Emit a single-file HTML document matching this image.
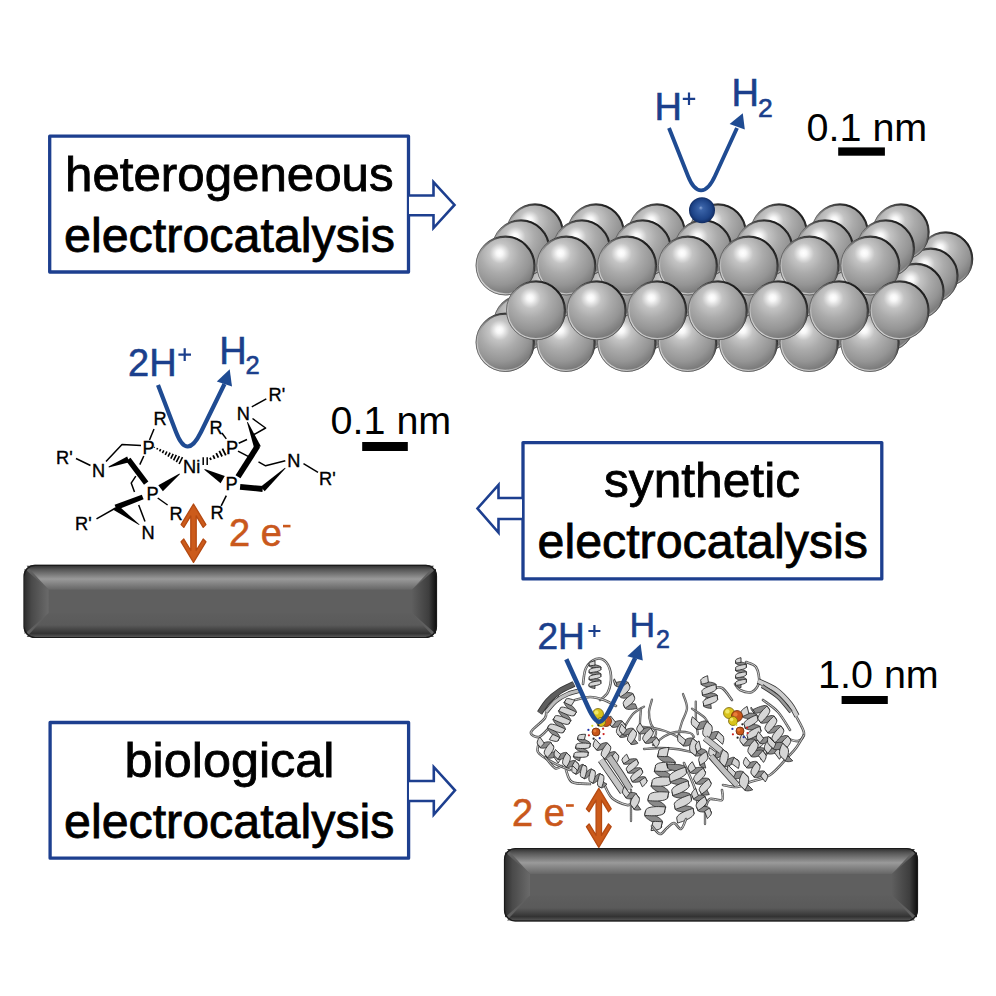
<!DOCTYPE html>
<html><head><meta charset="utf-8"><style>html,body{margin:0;padding:0;background:#fff;}svg{display:block}</style></head>
<body><svg width="996" height="996" viewBox="0 0 996 996">
<rect width="996" height="996" fill="#fff"/>

<defs>
<radialGradient id="sph" cx="0.42" cy="0.32" r="0.78" fx="0.40" fy="0.29">
 <stop offset="0" stop-color="#ffffff"/>
 <stop offset="0.07" stop-color="#f7f7f7"/>
 <stop offset="0.22" stop-color="#c4c4c4"/>
 <stop offset="0.42" stop-color="#ababab"/>
 <stop offset="0.66" stop-color="#959595"/>
 <stop offset="0.86" stop-color="#787878"/>
 <stop offset="1" stop-color="#545454"/>
</radialGradient>
<linearGradient id="rim" x1="0.15" y1="0.9" x2="0.85" y2="0.1">
 <stop offset="0" stop-color="#d4d4d4"/>
 <stop offset="0.4" stop-color="#a0a0a0"/>
 <stop offset="0.62" stop-color="#707070"/>
 <stop offset="1" stop-color="#141414"/>
</linearGradient>
<linearGradient id="outl" x1="0.2" y1="0.85" x2="0.8" y2="0.15">
 <stop offset="0" stop-color="#555"/>
 <stop offset="0.5" stop-color="#444"/>
 <stop offset="1" stop-color="#000"/>
</linearGradient>
<radialGradient id="hsph" cx="0.5" cy="0.5" r="0.55" fx="0.45" fy="0.4">
 <stop offset="0" stop-color="#8aa6d6"/>
 <stop offset="0.15" stop-color="#3a63a8"/>
 <stop offset="0.7" stop-color="#1d4387"/>
 <stop offset="1" stop-color="#0c2252"/>
</radialGradient>
<linearGradient id="elTop" x1="0" y1="0" x2="0" y2="1">
 <stop offset="0" stop-color="#333"/>
 <stop offset="0.15" stop-color="#555"/>
 <stop offset="0.55" stop-color="#9a9a9a"/>
 <stop offset="1" stop-color="#666"/>
</linearGradient>
<linearGradient id="elBot" x1="0" y1="0" x2="0" y2="1">
 <stop offset="0" stop-color="#5e5e5e"/>
 <stop offset="0.5" stop-color="#5a5a5a"/>
 <stop offset="0.85" stop-color="#333"/>
 <stop offset="1" stop-color="#555"/>
</linearGradient>
<linearGradient id="elL" x1="0" y1="0" x2="1" y2="0">
 <stop offset="0" stop-color="#2e2e2e"/>
 <stop offset="0.3" stop-color="#4a4a4a"/>
 <stop offset="1" stop-color="#6a6a6a"/>
</linearGradient>
<linearGradient id="elR" x1="0" y1="0" x2="1" y2="0">
 <stop offset="0" stop-color="#5e5e5e"/>
 <stop offset="0.7" stop-color="#3e3e3e"/>
 <stop offset="1" stop-color="#111"/>
</linearGradient>
</defs>
<rect x="49.7" y="136.2" width="358.8" height="135.8" fill="none" stroke="#1d3f8f" stroke-width="3.3" stroke-linejoin="round"/><rect x="523" y="442.6" width="358.8" height="136.3" fill="none" stroke="#1d3f8f" stroke-width="3.3" stroke-linejoin="round"/><rect x="50.1" y="722.5" width="358.5" height="135.7" fill="none" stroke="#1d3f8f" stroke-width="3.3" stroke-linejoin="round"/><text x="65" y="190.6" font-size="47.5" fill="#000" text-anchor="start" style="font-family:'Liberation Sans',sans-serif" textLength="328.6" lengthAdjust="spacingAndGlyphs" stroke="#000" stroke-width="0.8">heterogeneous</text><text x="64" y="251.6" font-size="47.5" fill="#000" text-anchor="start" style="font-family:'Liberation Sans',sans-serif" textLength="331" lengthAdjust="spacingAndGlyphs" stroke="#000" stroke-width="0.8">electrocatalysis</text><text x="604" y="496.7" font-size="47.5" fill="#000" text-anchor="start" style="font-family:'Liberation Sans',sans-serif" textLength="196" lengthAdjust="spacingAndGlyphs" stroke="#000" stroke-width="0.8">synthetic</text><text x="537.5" y="557.8" font-size="47.5" fill="#000" text-anchor="start" style="font-family:'Liberation Sans',sans-serif" textLength="330.5" lengthAdjust="spacingAndGlyphs" stroke="#000" stroke-width="0.8">electrocatalysis</text><text x="124.5" y="776.6" font-size="47.5" fill="#000" text-anchor="start" style="font-family:'Liberation Sans',sans-serif" textLength="210" lengthAdjust="spacingAndGlyphs" stroke="#000" stroke-width="0.8">biological</text><text x="64" y="837.6" font-size="47.5" fill="#000" text-anchor="start" style="font-family:'Liberation Sans',sans-serif" textLength="330.5" lengthAdjust="spacingAndGlyphs" stroke="#000" stroke-width="0.8">electrocatalysis</text><path d="M409,195.5 L433.5,195.5 L433.5,182 L454.5,204.9 L433.5,228 L433.5,215.3 L409,215.3" fill="#fff" stroke="#1d3f8f" stroke-width="2.6" stroke-linejoin="miter"/><path d="M409,781 L433.8,781 L433.8,767 L455,790.3 L433.8,814.5 L433.8,801 L409,801" fill="#fff" stroke="#1d3f8f" stroke-width="2.6" stroke-linejoin="miter"/><path d="M522,498 L498.5,498 L498.5,485 L477.5,508.5 L498.5,532.5 L498.5,519 L522,519" fill="#fff" stroke="#1d3f8f" stroke-width="2.6" stroke-linejoin="miter"/><g><rect x="23.6" y="564.8" width="413.4" height="73.20000000000005" rx="11" fill="#5f5f5f"/><path d="M26.6,565.8 L434,565.8 L412,589.8 L48.6,589.8 Z" fill="url(#elTop)"/><path d="M26.6,637 L434,637 L412,613 L48.6,613 Z" fill="url(#elBot)"/><path d="M24.6,568.8 L48.6,589.8 L48.6,613 L24.6,634 Z" fill="url(#elL)"/><path d="M436,568.8 L412,589.8 L412,613 L436,634 Z" fill="url(#elR)"/><rect x="24.1" y="565.3" width="412.4" height="72.20000000000005" rx="11" fill="none" stroke="#1a1a1a" stroke-width="1.2"/></g><g><rect x="504" y="848" width="414" height="73.39999999999998" rx="11" fill="#5f5f5f"/><path d="M507,849 L915,849 L892,874 L530,874 Z" fill="url(#elTop)"/><path d="M507,920.4 L915,920.4 L892,895.4 L530,895.4 Z" fill="url(#elBot)"/><path d="M505,852 L530,874 L530,895.4 L505,917.4 Z" fill="url(#elL)"/><path d="M917,852 L892,874 L892,895.4 L917,917.4 Z" fill="url(#elR)"/><rect x="504.5" y="848.5" width="413" height="72.39999999999998" rx="11" fill="none" stroke="#1a1a1a" stroke-width="1.2"/></g><g><circle cx="522.0" cy="323.0" r="28.5" fill="url(#sph)"/><circle cx="522.0" cy="323.0" r="27.2" fill="none" stroke="url(#rim)" stroke-width="1.5"/><circle cx="522.0" cy="323.0" r="28.2" fill="none" stroke="url(#outl)" stroke-width="0.7"/><circle cx="582.7" cy="323.0" r="28.5" fill="url(#sph)"/><circle cx="582.7" cy="323.0" r="27.2" fill="none" stroke="url(#rim)" stroke-width="1.5"/><circle cx="582.7" cy="323.0" r="28.2" fill="none" stroke="url(#outl)" stroke-width="0.7"/><circle cx="643.4" cy="323.0" r="28.5" fill="url(#sph)"/><circle cx="643.4" cy="323.0" r="27.2" fill="none" stroke="url(#rim)" stroke-width="1.5"/><circle cx="643.4" cy="323.0" r="28.2" fill="none" stroke="url(#outl)" stroke-width="0.7"/><circle cx="704.1" cy="323.0" r="28.5" fill="url(#sph)"/><circle cx="704.1" cy="323.0" r="27.2" fill="none" stroke="url(#rim)" stroke-width="1.5"/><circle cx="704.1" cy="323.0" r="28.2" fill="none" stroke="url(#outl)" stroke-width="0.7"/><circle cx="764.8" cy="323.0" r="28.5" fill="url(#sph)"/><circle cx="764.8" cy="323.0" r="27.2" fill="none" stroke="url(#rim)" stroke-width="1.5"/><circle cx="764.8" cy="323.0" r="28.2" fill="none" stroke="url(#outl)" stroke-width="0.7"/><circle cx="825.5" cy="323.0" r="28.5" fill="url(#sph)"/><circle cx="825.5" cy="323.0" r="27.2" fill="none" stroke="url(#rim)" stroke-width="1.5"/><circle cx="825.5" cy="323.0" r="28.2" fill="none" stroke="url(#outl)" stroke-width="0.7"/><circle cx="886.2" cy="323.0" r="28.5" fill="url(#sph)"/><circle cx="886.2" cy="323.0" r="27.2" fill="none" stroke="url(#rim)" stroke-width="1.5"/><circle cx="886.2" cy="323.0" r="28.2" fill="none" stroke="url(#outl)" stroke-width="0.7"/><circle cx="505.2" cy="342.3" r="29.5" fill="url(#sph)"/><circle cx="505.2" cy="342.3" r="28.2" fill="none" stroke="url(#rim)" stroke-width="1.5"/><circle cx="505.2" cy="342.3" r="29.2" fill="none" stroke="url(#outl)" stroke-width="0.7"/><circle cx="566.0" cy="342.3" r="29.5" fill="url(#sph)"/><circle cx="566.0" cy="342.3" r="28.2" fill="none" stroke="url(#rim)" stroke-width="1.5"/><circle cx="566.0" cy="342.3" r="29.2" fill="none" stroke="url(#outl)" stroke-width="0.7"/><circle cx="626.8" cy="342.3" r="29.5" fill="url(#sph)"/><circle cx="626.8" cy="342.3" r="28.2" fill="none" stroke="url(#rim)" stroke-width="1.5"/><circle cx="626.8" cy="342.3" r="29.2" fill="none" stroke="url(#outl)" stroke-width="0.7"/><circle cx="687.6" cy="342.3" r="29.5" fill="url(#sph)"/><circle cx="687.6" cy="342.3" r="28.2" fill="none" stroke="url(#rim)" stroke-width="1.5"/><circle cx="687.6" cy="342.3" r="29.2" fill="none" stroke="url(#outl)" stroke-width="0.7"/><circle cx="748.4" cy="342.3" r="29.5" fill="url(#sph)"/><circle cx="748.4" cy="342.3" r="28.2" fill="none" stroke="url(#rim)" stroke-width="1.5"/><circle cx="748.4" cy="342.3" r="29.2" fill="none" stroke="url(#outl)" stroke-width="0.7"/><circle cx="809.2" cy="342.3" r="29.5" fill="url(#sph)"/><circle cx="809.2" cy="342.3" r="28.2" fill="none" stroke="url(#rim)" stroke-width="1.5"/><circle cx="809.2" cy="342.3" r="29.2" fill="none" stroke="url(#outl)" stroke-width="0.7"/><circle cx="870.0" cy="342.3" r="29.5" fill="url(#sph)"/><circle cx="870.0" cy="342.3" r="28.2" fill="none" stroke="url(#rim)" stroke-width="1.5"/><circle cx="870.0" cy="342.3" r="29.2" fill="none" stroke="url(#outl)" stroke-width="0.7"/><circle cx="582.0" cy="259.0" r="27.5" fill="url(#sph)"/><circle cx="582.0" cy="259.0" r="26.2" fill="none" stroke="url(#rim)" stroke-width="1.5"/><circle cx="582.0" cy="259.0" r="27.2" fill="none" stroke="url(#outl)" stroke-width="0.7"/><circle cx="642.6" cy="259.0" r="27.5" fill="url(#sph)"/><circle cx="642.6" cy="259.0" r="26.2" fill="none" stroke="url(#rim)" stroke-width="1.5"/><circle cx="642.6" cy="259.0" r="27.2" fill="none" stroke="url(#outl)" stroke-width="0.7"/><circle cx="703.2" cy="259.0" r="27.5" fill="url(#sph)"/><circle cx="703.2" cy="259.0" r="26.2" fill="none" stroke="url(#rim)" stroke-width="1.5"/><circle cx="703.2" cy="259.0" r="27.2" fill="none" stroke="url(#outl)" stroke-width="0.7"/><circle cx="763.8" cy="259.0" r="27.5" fill="url(#sph)"/><circle cx="763.8" cy="259.0" r="26.2" fill="none" stroke="url(#rim)" stroke-width="1.5"/><circle cx="763.8" cy="259.0" r="27.2" fill="none" stroke="url(#outl)" stroke-width="0.7"/><circle cx="824.4" cy="259.0" r="27.5" fill="url(#sph)"/><circle cx="824.4" cy="259.0" r="26.2" fill="none" stroke="url(#rim)" stroke-width="1.5"/><circle cx="824.4" cy="259.0" r="27.2" fill="none" stroke="url(#outl)" stroke-width="0.7"/><circle cx="885.0" cy="259.0" r="27.5" fill="url(#sph)"/><circle cx="885.0" cy="259.0" r="26.2" fill="none" stroke="url(#rim)" stroke-width="1.5"/><circle cx="885.0" cy="259.0" r="27.2" fill="none" stroke="url(#outl)" stroke-width="0.7"/><circle cx="945.6" cy="259.0" r="27.5" fill="url(#sph)"/><circle cx="945.6" cy="259.0" r="26.2" fill="none" stroke="url(#rim)" stroke-width="1.5"/><circle cx="945.6" cy="259.0" r="27.2" fill="none" stroke="url(#outl)" stroke-width="0.7"/><circle cx="567.0" cy="275.5" r="27.8" fill="url(#sph)"/><circle cx="567.0" cy="275.5" r="26.5" fill="none" stroke="url(#rim)" stroke-width="1.5"/><circle cx="567.0" cy="275.5" r="27.5" fill="none" stroke="url(#outl)" stroke-width="0.7"/><circle cx="627.6" cy="275.5" r="27.8" fill="url(#sph)"/><circle cx="627.6" cy="275.5" r="26.5" fill="none" stroke="url(#rim)" stroke-width="1.5"/><circle cx="627.6" cy="275.5" r="27.5" fill="none" stroke="url(#outl)" stroke-width="0.7"/><circle cx="688.2" cy="275.5" r="27.8" fill="url(#sph)"/><circle cx="688.2" cy="275.5" r="26.5" fill="none" stroke="url(#rim)" stroke-width="1.5"/><circle cx="688.2" cy="275.5" r="27.5" fill="none" stroke="url(#outl)" stroke-width="0.7"/><circle cx="748.8" cy="275.5" r="27.8" fill="url(#sph)"/><circle cx="748.8" cy="275.5" r="26.5" fill="none" stroke="url(#rim)" stroke-width="1.5"/><circle cx="748.8" cy="275.5" r="27.5" fill="none" stroke="url(#outl)" stroke-width="0.7"/><circle cx="809.4" cy="275.5" r="27.8" fill="url(#sph)"/><circle cx="809.4" cy="275.5" r="26.5" fill="none" stroke="url(#rim)" stroke-width="1.5"/><circle cx="809.4" cy="275.5" r="27.5" fill="none" stroke="url(#outl)" stroke-width="0.7"/><circle cx="870.0" cy="275.5" r="27.8" fill="url(#sph)"/><circle cx="870.0" cy="275.5" r="26.5" fill="none" stroke="url(#rim)" stroke-width="1.5"/><circle cx="870.0" cy="275.5" r="27.5" fill="none" stroke="url(#outl)" stroke-width="0.7"/><circle cx="930.6" cy="275.5" r="27.8" fill="url(#sph)"/><circle cx="930.6" cy="275.5" r="26.5" fill="none" stroke="url(#rim)" stroke-width="1.5"/><circle cx="930.6" cy="275.5" r="27.5" fill="none" stroke="url(#outl)" stroke-width="0.7"/><circle cx="552.5" cy="291.2" r="28.3" fill="url(#sph)"/><circle cx="552.5" cy="291.2" r="27.0" fill="none" stroke="url(#rim)" stroke-width="1.5"/><circle cx="552.5" cy="291.2" r="28.0" fill="none" stroke="url(#outl)" stroke-width="0.7"/><circle cx="613.1" cy="291.2" r="28.3" fill="url(#sph)"/><circle cx="613.1" cy="291.2" r="27.0" fill="none" stroke="url(#rim)" stroke-width="1.5"/><circle cx="613.1" cy="291.2" r="28.0" fill="none" stroke="url(#outl)" stroke-width="0.7"/><circle cx="673.7" cy="291.2" r="28.3" fill="url(#sph)"/><circle cx="673.7" cy="291.2" r="27.0" fill="none" stroke="url(#rim)" stroke-width="1.5"/><circle cx="673.7" cy="291.2" r="28.0" fill="none" stroke="url(#outl)" stroke-width="0.7"/><circle cx="734.3" cy="291.2" r="28.3" fill="url(#sph)"/><circle cx="734.3" cy="291.2" r="27.0" fill="none" stroke="url(#rim)" stroke-width="1.5"/><circle cx="734.3" cy="291.2" r="28.0" fill="none" stroke="url(#outl)" stroke-width="0.7"/><circle cx="794.9" cy="291.2" r="28.3" fill="url(#sph)"/><circle cx="794.9" cy="291.2" r="27.0" fill="none" stroke="url(#rim)" stroke-width="1.5"/><circle cx="794.9" cy="291.2" r="28.0" fill="none" stroke="url(#outl)" stroke-width="0.7"/><circle cx="855.5" cy="291.2" r="28.3" fill="url(#sph)"/><circle cx="855.5" cy="291.2" r="27.0" fill="none" stroke="url(#rim)" stroke-width="1.5"/><circle cx="855.5" cy="291.2" r="28.0" fill="none" stroke="url(#outl)" stroke-width="0.7"/><circle cx="916.1" cy="291.2" r="28.3" fill="url(#sph)"/><circle cx="916.1" cy="291.2" r="27.0" fill="none" stroke="url(#rim)" stroke-width="1.5"/><circle cx="916.1" cy="291.2" r="28.0" fill="none" stroke="url(#outl)" stroke-width="0.7"/><circle cx="535.0" cy="232.0" r="28.5" fill="url(#sph)"/><circle cx="535.0" cy="232.0" r="27.2" fill="none" stroke="url(#rim)" stroke-width="1.5"/><circle cx="535.0" cy="232.0" r="28.2" fill="none" stroke="url(#outl)" stroke-width="0.7"/><circle cx="596.0" cy="232.0" r="28.5" fill="url(#sph)"/><circle cx="596.0" cy="232.0" r="27.2" fill="none" stroke="url(#rim)" stroke-width="1.5"/><circle cx="596.0" cy="232.0" r="28.2" fill="none" stroke="url(#outl)" stroke-width="0.7"/><circle cx="657.0" cy="232.0" r="28.5" fill="url(#sph)"/><circle cx="657.0" cy="232.0" r="27.2" fill="none" stroke="url(#rim)" stroke-width="1.5"/><circle cx="657.0" cy="232.0" r="28.2" fill="none" stroke="url(#outl)" stroke-width="0.7"/><circle cx="718.0" cy="232.0" r="28.5" fill="url(#sph)"/><circle cx="718.0" cy="232.0" r="27.2" fill="none" stroke="url(#rim)" stroke-width="1.5"/><circle cx="718.0" cy="232.0" r="28.2" fill="none" stroke="url(#outl)" stroke-width="0.7"/><circle cx="779.0" cy="232.0" r="28.5" fill="url(#sph)"/><circle cx="779.0" cy="232.0" r="27.2" fill="none" stroke="url(#rim)" stroke-width="1.5"/><circle cx="779.0" cy="232.0" r="28.2" fill="none" stroke="url(#outl)" stroke-width="0.7"/><circle cx="840.0" cy="232.0" r="28.5" fill="url(#sph)"/><circle cx="840.0" cy="232.0" r="27.2" fill="none" stroke="url(#rim)" stroke-width="1.5"/><circle cx="840.0" cy="232.0" r="28.2" fill="none" stroke="url(#outl)" stroke-width="0.7"/><circle cx="901.0" cy="232.0" r="28.5" fill="url(#sph)"/><circle cx="901.0" cy="232.0" r="27.2" fill="none" stroke="url(#rim)" stroke-width="1.5"/><circle cx="901.0" cy="232.0" r="28.2" fill="none" stroke="url(#outl)" stroke-width="0.7"/><circle cx="521.0" cy="248.5" r="29" fill="url(#sph)"/><circle cx="521.0" cy="248.5" r="27.7" fill="none" stroke="url(#rim)" stroke-width="1.5"/><circle cx="521.0" cy="248.5" r="28.7" fill="none" stroke="url(#outl)" stroke-width="0.7"/><circle cx="581.8" cy="248.5" r="29" fill="url(#sph)"/><circle cx="581.8" cy="248.5" r="27.7" fill="none" stroke="url(#rim)" stroke-width="1.5"/><circle cx="581.8" cy="248.5" r="28.7" fill="none" stroke="url(#outl)" stroke-width="0.7"/><circle cx="642.6" cy="248.5" r="29" fill="url(#sph)"/><circle cx="642.6" cy="248.5" r="27.7" fill="none" stroke="url(#rim)" stroke-width="1.5"/><circle cx="642.6" cy="248.5" r="28.7" fill="none" stroke="url(#outl)" stroke-width="0.7"/><circle cx="703.4" cy="248.5" r="29" fill="url(#sph)"/><circle cx="703.4" cy="248.5" r="27.7" fill="none" stroke="url(#rim)" stroke-width="1.5"/><circle cx="703.4" cy="248.5" r="28.7" fill="none" stroke="url(#outl)" stroke-width="0.7"/><circle cx="764.2" cy="248.5" r="29" fill="url(#sph)"/><circle cx="764.2" cy="248.5" r="27.7" fill="none" stroke="url(#rim)" stroke-width="1.5"/><circle cx="764.2" cy="248.5" r="28.7" fill="none" stroke="url(#outl)" stroke-width="0.7"/><circle cx="825.0" cy="248.5" r="29" fill="url(#sph)"/><circle cx="825.0" cy="248.5" r="27.7" fill="none" stroke="url(#rim)" stroke-width="1.5"/><circle cx="825.0" cy="248.5" r="28.7" fill="none" stroke="url(#outl)" stroke-width="0.7"/><circle cx="885.8" cy="248.5" r="29" fill="url(#sph)"/><circle cx="885.8" cy="248.5" r="27.7" fill="none" stroke="url(#rim)" stroke-width="1.5"/><circle cx="885.8" cy="248.5" r="28.7" fill="none" stroke="url(#outl)" stroke-width="0.7"/><circle cx="505.5" cy="265.5" r="29.8" fill="url(#sph)"/><circle cx="505.5" cy="265.5" r="28.5" fill="none" stroke="url(#rim)" stroke-width="1.5"/><circle cx="505.5" cy="265.5" r="29.5" fill="none" stroke="url(#outl)" stroke-width="0.7"/><circle cx="566.3" cy="265.5" r="29.8" fill="url(#sph)"/><circle cx="566.3" cy="265.5" r="28.5" fill="none" stroke="url(#rim)" stroke-width="1.5"/><circle cx="566.3" cy="265.5" r="29.5" fill="none" stroke="url(#outl)" stroke-width="0.7"/><circle cx="627.1" cy="265.5" r="29.8" fill="url(#sph)"/><circle cx="627.1" cy="265.5" r="28.5" fill="none" stroke="url(#rim)" stroke-width="1.5"/><circle cx="627.1" cy="265.5" r="29.5" fill="none" stroke="url(#outl)" stroke-width="0.7"/><circle cx="687.9" cy="265.5" r="29.8" fill="url(#sph)"/><circle cx="687.9" cy="265.5" r="28.5" fill="none" stroke="url(#rim)" stroke-width="1.5"/><circle cx="687.9" cy="265.5" r="29.5" fill="none" stroke="url(#outl)" stroke-width="0.7"/><circle cx="748.7" cy="265.5" r="29.8" fill="url(#sph)"/><circle cx="748.7" cy="265.5" r="28.5" fill="none" stroke="url(#rim)" stroke-width="1.5"/><circle cx="748.7" cy="265.5" r="29.5" fill="none" stroke="url(#outl)" stroke-width="0.7"/><circle cx="809.5" cy="265.5" r="29.8" fill="url(#sph)"/><circle cx="809.5" cy="265.5" r="28.5" fill="none" stroke="url(#rim)" stroke-width="1.5"/><circle cx="809.5" cy="265.5" r="29.5" fill="none" stroke="url(#outl)" stroke-width="0.7"/><circle cx="870.3" cy="265.5" r="29.8" fill="url(#sph)"/><circle cx="870.3" cy="265.5" r="28.5" fill="none" stroke="url(#rim)" stroke-width="1.5"/><circle cx="870.3" cy="265.5" r="29.5" fill="none" stroke="url(#outl)" stroke-width="0.7"/><circle cx="536.0" cy="310.3" r="29.8" fill="url(#sph)"/><circle cx="536.0" cy="310.3" r="28.5" fill="none" stroke="url(#rim)" stroke-width="1.5"/><circle cx="536.0" cy="310.3" r="29.5" fill="none" stroke="url(#outl)" stroke-width="0.7"/><circle cx="596.6" cy="310.3" r="29.8" fill="url(#sph)"/><circle cx="596.6" cy="310.3" r="28.5" fill="none" stroke="url(#rim)" stroke-width="1.5"/><circle cx="596.6" cy="310.3" r="29.5" fill="none" stroke="url(#outl)" stroke-width="0.7"/><circle cx="657.2" cy="310.3" r="29.8" fill="url(#sph)"/><circle cx="657.2" cy="310.3" r="28.5" fill="none" stroke="url(#rim)" stroke-width="1.5"/><circle cx="657.2" cy="310.3" r="29.5" fill="none" stroke="url(#outl)" stroke-width="0.7"/><circle cx="717.8" cy="310.3" r="29.8" fill="url(#sph)"/><circle cx="717.8" cy="310.3" r="28.5" fill="none" stroke="url(#rim)" stroke-width="1.5"/><circle cx="717.8" cy="310.3" r="29.5" fill="none" stroke="url(#outl)" stroke-width="0.7"/><circle cx="778.4" cy="310.3" r="29.8" fill="url(#sph)"/><circle cx="778.4" cy="310.3" r="28.5" fill="none" stroke="url(#rim)" stroke-width="1.5"/><circle cx="778.4" cy="310.3" r="29.5" fill="none" stroke="url(#outl)" stroke-width="0.7"/><circle cx="839.0" cy="310.3" r="29.8" fill="url(#sph)"/><circle cx="839.0" cy="310.3" r="28.5" fill="none" stroke="url(#rim)" stroke-width="1.5"/><circle cx="839.0" cy="310.3" r="29.5" fill="none" stroke="url(#outl)" stroke-width="0.7"/><circle cx="899.6" cy="310.3" r="29.8" fill="url(#sph)"/><circle cx="899.6" cy="310.3" r="28.5" fill="none" stroke="url(#rim)" stroke-width="1.5"/><circle cx="899.6" cy="310.3" r="29.5" fill="none" stroke="url(#outl)" stroke-width="0.7"/></g><circle cx="702" cy="210.3" r="13" fill="url(#hsph)"/><path d="M652,699.6 C651.5,701.7 649.2,707.9 649.0,712.0 C648.8,716.1 649.8,720.7 651.0,724.0 C652.2,727.3 655.4,729.7 656.0,732.0 C656.6,734.3 654.8,737.0 654.6,738.0" fill="none" stroke="#555555" stroke-width="2.3" stroke-linecap="round"/><path d="M652,699.6 C651.5,701.7 649.2,707.9 649.0,712.0 C648.8,716.1 649.8,720.7 651.0,724.0 C652.2,727.3 655.4,729.7 656.0,732.0 C656.6,734.3 654.8,737.0 654.6,738.0" fill="none" stroke="#d0d0d0" stroke-width="0.7000000000000001" stroke-linecap="round"/><path d="M644,706.6 C642.2,707.8 636.3,710.4 633.0,714.0 C629.7,717.6 625.9,724.7 624.0,728.0 C622.1,731.3 621.9,733.0 621.5,734.0" fill="none" stroke="#555555" stroke-width="2.3" stroke-linecap="round"/><path d="M644,706.6 C642.2,707.8 636.3,710.4 633.0,714.0 C629.7,717.6 625.9,724.7 624.0,728.0 C622.1,731.3 621.9,733.0 621.5,734.0" fill="none" stroke="#d0d0d0" stroke-width="0.7000000000000001" stroke-linecap="round"/><path d="M641,709 C640.8,711.2 640.2,716.8 640.0,722.0 C639.8,727.2 639.7,737.0 639.6,740.0" fill="none" stroke="#555555" stroke-width="2.3" stroke-linecap="round"/><path d="M641,709 C640.8,711.2 640.2,716.8 640.0,722.0 C639.8,727.2 639.7,737.0 639.6,740.0" fill="none" stroke="#d0d0d0" stroke-width="0.7000000000000001" stroke-linecap="round"/><path d="M683,694 C683.7,696.3 687.2,703.3 687.0,708.0 C686.8,712.7 683.3,717.7 682.0,722.0 C680.7,726.3 679.0,731.0 679.0,734.0 C679.0,737.0 681.5,739.0 682.0,740.0" fill="none" stroke="#555555" stroke-width="2.3" stroke-linecap="round"/><path d="M683,694 C683.7,696.3 687.2,703.3 687.0,708.0 C686.8,712.7 683.3,717.7 682.0,722.0 C680.7,726.3 679.0,731.0 679.0,734.0 C679.0,737.0 681.5,739.0 682.0,740.0" fill="none" stroke="#d0d0d0" stroke-width="0.7000000000000001" stroke-linecap="round"/><path d="M695.8,701.6 C695.8,704.7 695.7,714.6 696.0,720.0 C696.3,725.4 697.5,731.7 697.8,734.0" fill="none" stroke="#555555" stroke-width="2.3" stroke-linecap="round"/><path d="M695.8,701.6 C695.8,704.7 695.7,714.6 696.0,720.0 C696.3,725.4 697.5,731.7 697.8,734.0" fill="none" stroke="#d0d0d0" stroke-width="0.7000000000000001" stroke-linecap="round"/><path d="M692,708.6 C694.2,710.2 702.0,714.8 705.0,718.0 C708.0,721.2 709.2,726.3 710.0,728.0" fill="none" stroke="#555555" stroke-width="2.3" stroke-linecap="round"/><path d="M692,708.6 C694.2,710.2 702.0,714.8 705.0,718.0 C708.0,721.2 709.2,726.3 710.0,728.0" fill="none" stroke="#d0d0d0" stroke-width="0.7000000000000001" stroke-linecap="round"/><path d="M643,727 C644.7,727.2 649.3,727.3 653.0,728.0 C656.7,728.7 661.2,729.7 665.0,731.0 C668.8,732.3 672.8,734.2 676.0,736.0 C679.2,737.8 682.7,741.0 684.0,742.0" fill="none" stroke="#555555" stroke-width="2.3" stroke-linecap="round"/><path d="M643,727 C644.7,727.2 649.3,727.3 653.0,728.0 C656.7,728.7 661.2,729.7 665.0,731.0 C668.8,732.3 672.8,734.2 676.0,736.0 C679.2,737.8 682.7,741.0 684.0,742.0" fill="none" stroke="#d0d0d0" stroke-width="0.7000000000000001" stroke-linecap="round"/><path d="M653,745 C655.0,743.5 661.2,738.2 665.0,736.0 C668.8,733.8 671.8,732.5 676.0,732.0 C680.2,731.5 687.0,732.2 690.0,733.0 C693.0,733.8 693.3,736.3 694.0,737.0" fill="none" stroke="#555555" stroke-width="2.3" stroke-linecap="round"/><path d="M653,745 C655.0,743.5 661.2,738.2 665.0,736.0 C668.8,733.8 671.8,732.5 676.0,732.0 C680.2,731.5 687.0,732.2 690.0,733.0 C693.0,733.8 693.3,736.3 694.0,737.0" fill="none" stroke="#d0d0d0" stroke-width="0.7000000000000001" stroke-linecap="round"/><path d="M644,749 C646.7,748.8 654.7,748.0 660.0,748.0 C665.3,748.0 670.7,748.3 676.0,749.0 C681.3,749.7 689.3,751.5 692.0,752.0" fill="none" stroke="#555555" stroke-width="2.3" stroke-linecap="round"/><path d="M644,749 C646.7,748.8 654.7,748.0 660.0,748.0 C665.3,748.0 670.7,748.3 676.0,749.0 C681.3,749.7 689.3,751.5 692.0,752.0" fill="none" stroke="#d0d0d0" stroke-width="0.7000000000000001" stroke-linecap="round"/><path d="M558,696 C556.2,698.0 549.2,704.3 547.0,708.0 C544.8,711.7 547.7,714.0 545.0,718.0 C542.3,722.0 532.0,728.8 531.0,732.0 C530.0,735.2 536.0,737.7 539.0,737.0 C542.0,736.3 547.3,729.5 549.0,728.0" fill="none" stroke="#555555" stroke-width="2.6" stroke-linecap="round"/><path d="M558,696 C556.2,698.0 549.2,704.3 547.0,708.0 C544.8,711.7 547.7,714.0 545.0,718.0 C542.3,722.0 532.0,728.8 531.0,732.0 C530.0,735.2 536.0,737.7 539.0,737.0 C542.0,736.3 547.3,729.5 549.0,728.0" fill="none" stroke="#d0d0d0" stroke-width="1.0" stroke-linecap="round"/><path d="M583,684 C583.5,681.3 583.8,672.2 586.0,668.0 C588.2,663.8 592.7,660.0 596.0,659.0 C599.3,658.0 603.5,659.2 606.0,662.0 C608.5,664.8 610.7,671.0 611.0,676.0 C611.3,681.0 609.8,688.0 608.0,692.0 C606.2,696.0 601.3,698.7 600.0,700.0" fill="none" stroke="#555555" stroke-width="2.6" stroke-linecap="round"/><path d="M583,684 C583.5,681.3 583.8,672.2 586.0,668.0 C588.2,663.8 592.7,660.0 596.0,659.0 C599.3,658.0 603.5,659.2 606.0,662.0 C608.5,664.8 610.7,671.0 611.0,676.0 C611.3,681.0 609.8,688.0 608.0,692.0 C606.2,696.0 601.3,698.7 600.0,700.0" fill="none" stroke="#d0d0d0" stroke-width="1.0" stroke-linecap="round"/><path d="M575,700 C577.5,699.5 585.2,697.0 590.0,697.0 C594.8,697.0 599.7,698.5 604.0,700.0 C608.3,701.5 614.0,705.0 616.0,706.0" fill="none" stroke="#555555" stroke-width="2.6" stroke-linecap="round"/><path d="M575,700 C577.5,699.5 585.2,697.0 590.0,697.0 C594.8,697.0 599.7,698.5 604.0,700.0 C608.3,701.5 614.0,705.0 616.0,706.0" fill="none" stroke="#d0d0d0" stroke-width="1.0" stroke-linecap="round"/><path d="M540,740 C539.7,742.0 536.0,748.3 538.0,752.0 C540.0,755.7 546.7,759.0 552.0,762.0 C557.3,765.0 567.0,768.7 570.0,770.0" fill="none" stroke="#555555" stroke-width="2.6" stroke-linecap="round"/><path d="M540,740 C539.7,742.0 536.0,748.3 538.0,752.0 C540.0,755.7 546.7,759.0 552.0,762.0 C557.3,765.0 567.0,768.7 570.0,770.0" fill="none" stroke="#d0d0d0" stroke-width="1.0" stroke-linecap="round"/><path d="M566,770 C567.0,772.0 568.0,779.7 572.0,782.0 C576.0,784.3 587.0,783.7 590.0,784.0" fill="none" stroke="#555555" stroke-width="2.6" stroke-linecap="round"/><path d="M566,770 C567.0,772.0 568.0,779.7 572.0,782.0 C576.0,784.3 587.0,783.7 590.0,784.0" fill="none" stroke="#d0d0d0" stroke-width="1.0" stroke-linecap="round"/><path d="M604,784 C605.3,786.3 608.2,794.5 612.0,798.0 C615.8,801.5 623.7,804.2 627.0,805.0 C630.3,805.8 631.2,803.3 632.0,803.0" fill="none" stroke="#555555" stroke-width="2.6" stroke-linecap="round"/><path d="M604,784 C605.3,786.3 608.2,794.5 612.0,798.0 C615.8,801.5 623.7,804.2 627.0,805.0 C630.3,805.8 631.2,803.3 632.0,803.0" fill="none" stroke="#d0d0d0" stroke-width="1.0" stroke-linecap="round"/><path d="M631,790 C631.0,792.7 631.0,800.8 631.0,806.0 C631.0,811.2 631.0,818.5 631.0,821.0" fill="none" stroke="#555555" stroke-width="2.3" stroke-linecap="round"/><path d="M631,790 C631.0,792.7 631.0,800.8 631.0,806.0 C631.0,811.2 631.0,818.5 631.0,821.0" fill="none" stroke="#d0d0d0" stroke-width="0.7000000000000001" stroke-linecap="round"/><path d="M545,757 C546.7,758.8 552.2,766.5 555.0,768.0 C557.8,769.5 560.8,766.3 562.0,766.0" fill="none" stroke="#555555" stroke-width="2.6" stroke-linecap="round"/><path d="M545,757 C546.7,758.8 552.2,766.5 555.0,768.0 C557.8,769.5 560.8,766.3 562.0,766.0" fill="none" stroke="#d0d0d0" stroke-width="1.0" stroke-linecap="round"/><path d="M539.6,713 C541.0,711.0 544.6,704.7 548.0,701.0 C551.4,697.3 555.7,693.8 560.0,691.0 C564.3,688.2 571.7,685.2 574.0,684.0" fill="none" stroke="#333" stroke-width="6.1" stroke-linecap="butt"/><path d="M539.6,713 C541.0,711.0 544.6,704.7 548.0,701.0 C551.4,697.3 555.7,693.8 560.0,691.0 C564.3,688.2 571.7,685.2 574.0,684.0" fill="none" stroke="#5e5e5e" stroke-width="4.5" stroke-linecap="butt"/><path d="M546,712 C547.7,710.2 552.3,704.0 556.0,701.0 C559.7,698.0 563.7,695.8 568.0,694.0 C572.3,692.2 579.7,690.7 582.0,690.0" fill="none" stroke="#333" stroke-width="4.6" stroke-linecap="butt"/><path d="M546,712 C547.7,710.2 552.3,704.0 556.0,701.0 C559.7,698.0 563.7,695.8 568.0,694.0 C572.3,692.2 579.7,690.7 582.0,690.0" fill="none" stroke="#bdbdbd" stroke-width="3" stroke-linecap="butt"/><path d="M589.2,666.1 L589.8,666.5 L590.8,667.0 L592.0,667.4 L593.4,667.7 L595.0,668.0 L596.6,668.3 L598.0,668.5 L599.2,668.7 L600.2,668.8 L600.8,668.9 L601.0,669.0 L600.8,669.8 L600.8,667.0 L601.0,667.3 L600.8,666.8 L600.2,666.3 L599.2,665.9 L598.0,665.5 L596.6,665.1 L595.0,664.8 L593.4,664.6 L592.0,664.4 L590.8,664.2 L589.8,664.1 L589.2,663.9Z M589.2,672.9 L589.8,673.4 L590.8,673.8 L592.0,674.2 L593.4,674.6 L595.0,674.9 L596.6,675.1 L598.0,675.4 L599.2,675.5 L600.2,675.7 L600.8,675.8 L601.0,675.9 L600.8,676.7 L600.8,673.9 L601.0,674.1 L600.8,673.7 L600.2,673.2 L599.2,672.8 L598.0,672.4 L596.6,672.0 L595.0,671.7 L593.4,671.4 L592.0,671.2 L590.8,671.0 L589.8,670.9 L589.2,670.8Z M589.2,679.8 L589.8,680.2 L590.8,680.7 L592.0,681.1 L593.4,681.4 L595.0,681.7 L596.6,682.0 L598.0,682.2 L599.2,682.4 L600.2,682.5 L600.8,682.6 L601.0,682.7 L600.8,683.6 L600.8,680.7 L601.0,681.0 L600.8,680.5 L600.2,680.1 L599.2,679.6 L598.0,679.2 L596.6,678.9 L595.0,678.5 L593.4,678.3 L592.0,678.1 L590.8,677.9 L589.8,677.8 L589.2,677.7Z M589.0,686.2 L589.2,686.6 L589.8,687.1 L590.8,687.5 L592.0,687.9 L593.4,688.3 L595.0,688.6 L595.0,685.4 L593.4,685.1 L592.0,684.9 L590.8,684.8 L589.8,684.6 L589.2,684.5 L589.0,684.4Z" fill="#8a8a8a" stroke="#2a2a2a" stroke-width="0.8"/><path d="M595.0,665.1 L593.4,665.4 L592.0,665.6 L590.8,665.7 L589.8,665.8 L589.2,665.8 L589.0,665.9 L589.2,666.1 L589.2,663.9 L589.0,663.5 L589.2,663.0 L589.8,662.5 L590.8,662.0 L592.0,661.6 L593.4,661.2 L595.0,660.9Z M600.8,669.8 L600.2,670.4 L599.2,670.8 L598.0,671.3 L596.6,671.7 L595.0,672.0 L593.4,672.2 L592.0,672.4 L590.8,672.6 L589.8,672.6 L589.2,672.7 L589.0,672.7 L589.2,672.9 L589.2,670.8 L589.0,670.4 L589.2,669.9 L589.8,669.4 L590.8,668.9 L592.0,668.4 L593.4,668.0 L595.0,667.7 L596.6,667.5 L598.0,667.3 L599.2,667.2 L600.2,667.1 L600.8,667.0Z M600.8,676.7 L600.2,677.2 L599.2,677.7 L598.0,678.1 L596.6,678.5 L595.0,678.8 L593.4,679.1 L592.0,679.3 L590.8,679.4 L589.8,679.5 L589.2,679.6 L589.0,679.6 L589.2,679.8 L589.2,677.7 L589.0,677.3 L589.2,676.7 L589.8,676.2 L590.8,675.7 L592.0,675.3 L593.4,674.9 L595.0,674.6 L596.6,674.3 L598.0,674.1 L599.2,674.0 L600.2,673.9 L600.8,673.9Z M600.8,683.6 L600.2,684.1 L599.2,684.6 L598.0,685.0 L596.6,685.4 L595.0,685.7 L593.4,686.0 L592.0,686.1 L590.8,686.3 L589.8,686.4 L589.2,686.4 L589.0,686.2 L589.0,684.4 L589.2,683.6 L589.8,683.1 L590.8,682.6 L592.0,682.1 L593.4,681.8 L595.0,681.4 L596.6,681.2 L598.0,681.0 L599.2,680.9 L600.2,680.8 L600.8,680.7Z" fill="#d6d6d6" stroke="#2a2a2a" stroke-width="0.9"/><path d="M615.2,685.4 L615.8,686.1 L616.7,686.6 L618.0,686.9 L619.5,687.0 L621.2,686.9 L623.0,686.8 L624.7,686.5 L626.3,686.3 L627.6,686.0 L628.7,685.8 L629.3,685.8 L629.8,686.4 L628.1,682.5 L627.9,682.3 L627.0,681.8 L625.7,681.5 L624.2,681.4 L622.5,681.4 L620.8,681.6 L619.0,681.8 L617.4,682.1 L616.1,682.3 L615.0,682.5 L614.3,682.6 L614.0,682.5Z M620.0,696.6 L620.6,697.3 L621.5,697.8 L622.8,698.1 L624.3,698.2 L626.0,698.1 L627.8,698.0 L629.5,697.7 L631.1,697.5 L632.4,697.2 L633.5,697.0 L634.1,697.0 L634.6,697.6 L632.9,693.7 L632.7,693.5 L631.8,693.0 L630.5,692.7 L629.0,692.6 L627.3,692.6 L625.6,692.8 L623.8,693.0 L622.2,693.3 L620.9,693.5 L619.8,693.7 L619.1,693.8 L618.8,693.7Z M624.8,707.8 L625.4,708.5 L626.3,709.0 L627.6,709.3 L629.1,709.4 L630.8,709.3 L632.6,709.2 L634.3,708.9 L635.9,708.7 L637.2,708.4 L635.3,703.9 L633.8,703.8 L632.1,703.8 L630.4,704.0 L628.6,704.2 L627.0,704.5 L625.7,704.7 L624.6,704.9 L623.9,705.0 L623.6,704.9Z" fill="#8a8a8a" stroke="#2a2a2a" stroke-width="0.8"/><path d="M617.0,684.8 L616.1,685.4 L615.6,685.7 L615.2,685.4 L614.0,682.5 L613.6,681.1 L613.8,680.0 L614.4,678.8Z M629.8,686.4 L629.9,687.3 L629.7,688.4 L629.1,689.6 L628.1,690.9 L626.9,692.1 L625.6,693.3 L624.2,694.4 L622.9,695.3 L621.8,696.0 L620.9,696.6 L620.4,696.9 L620.0,696.6 L618.8,693.7 L618.4,692.3 L618.6,691.2 L619.2,690.0 L620.1,688.8 L621.3,687.6 L622.6,686.4 L624.0,685.3 L625.3,684.3 L626.5,683.6 L627.4,683.0 L627.9,682.7 L628.1,682.5Z M634.6,697.6 L634.7,698.5 L634.5,699.6 L633.9,700.8 L632.9,702.1 L631.7,703.3 L630.4,704.5 L629.0,705.6 L627.7,706.5 L626.6,707.2 L625.7,707.8 L625.2,708.1 L624.8,707.8 L623.6,704.9 L623.2,703.5 L623.4,702.4 L624.0,701.2 L624.9,700.0 L626.1,698.8 L627.4,697.6 L628.8,696.5 L630.1,695.5 L631.3,694.8 L632.2,694.2 L632.7,693.9 L632.9,693.7Z" fill="#d6d6d6" stroke="#2a2a2a" stroke-width="0.9"/><path d="M564.1,702.6 L564.4,703.6 L565.1,704.8 L566.1,706.2 L567.5,707.7 L569.0,709.2 L570.5,710.7 L571.9,712.0 L573.2,713.1 L574.2,714.0 L574.7,714.5 L574.9,714.8 L574.0,715.7 L576.3,712.2 L576.3,712.6 L576.4,711.9 L576.1,710.9 L575.4,709.7 L574.4,708.3 L573.0,706.8 L571.5,705.3 L570.0,703.8 L568.6,702.5 L567.3,701.4 L566.3,700.5 L565.8,700.0Z M558.6,711.1 L558.9,712.1 L559.6,713.3 L560.6,714.7 L562.0,716.2 L563.5,717.7 L565.0,719.2 L566.4,720.5 L567.7,721.6 L568.7,722.5 L569.2,723.0 L569.4,723.3 L568.5,724.2 L570.8,720.7 L570.8,721.1 L570.9,720.4 L570.6,719.4 L569.9,718.2 L568.9,716.8 L567.5,715.3 L566.0,713.8 L564.5,712.3 L563.1,711.0 L561.8,709.9 L560.8,709.0 L560.3,708.5Z M553.1,719.6 L553.4,720.6 L554.1,721.8 L555.1,723.2 L556.5,724.7 L558.0,726.2 L559.5,727.7 L560.9,729.0 L562.2,730.1 L563.2,731.0 L563.7,731.5 L563.9,731.8 L563.0,732.7 L565.3,729.2 L565.3,729.6 L565.4,728.9 L565.1,727.9 L564.4,726.7 L563.4,725.3 L562.0,723.8 L560.5,722.3 L559.0,720.8 L557.6,719.5 L556.3,718.4 L555.3,717.5 L554.8,717.0Z M547.7,727.4 L547.6,728.1 L547.9,729.1 L548.6,730.3 L549.6,731.7 L551.0,733.2 L552.5,734.7 L554.0,736.2 L555.4,737.5 L556.7,738.6 L557.7,739.5 L558.2,740.0 L558.4,740.3 L557.5,741.2 L559.8,737.7 L559.8,738.1 L559.9,737.4 L559.6,736.4 L558.9,735.2 L557.9,733.8 L556.5,732.3 L555.0,730.8 L553.5,729.3 L552.1,728.0 L550.8,726.9 L549.8,726.0 L549.3,725.5 L549.1,725.2Z" fill="#8a8a8a" stroke="#2a2a2a" stroke-width="0.8"/><path d="M571.3,705.6 L569.4,704.8 L567.6,704.0 L566.1,703.3 L564.9,702.7 L564.2,702.3 L564.0,702.2 L564.1,702.6 L565.8,700.0 L565.8,699.3 L566.5,698.8 L567.6,698.6 L569.0,698.7 L570.8,699.1 L572.7,699.6 L574.7,700.4Z M574.0,715.7 L572.9,715.9 L571.5,715.8 L569.7,715.4 L567.8,714.9 L565.8,714.1 L563.9,713.3 L562.1,712.5 L560.6,711.8 L559.4,711.2 L558.7,710.8 L558.5,710.7 L558.6,711.1 L560.3,708.5 L560.3,707.8 L561.0,707.3 L562.1,707.1 L563.5,707.2 L565.3,707.6 L567.2,708.1 L569.2,708.9 L571.1,709.7 L572.9,710.5 L574.4,711.2 L575.6,711.8 L576.3,712.2Z M568.5,724.2 L567.4,724.4 L566.0,724.3 L564.2,723.9 L562.3,723.4 L560.3,722.6 L558.4,721.8 L556.6,721.0 L555.1,720.3 L553.9,719.7 L553.2,719.3 L553.0,719.2 L553.1,719.6 L554.8,717.0 L554.8,716.3 L555.5,715.8 L556.6,715.6 L558.0,715.7 L559.8,716.1 L561.7,716.6 L563.7,717.4 L565.6,718.2 L567.4,719.0 L568.9,719.7 L570.1,720.3 L570.8,720.7Z M563.0,732.7 L561.9,732.9 L560.5,732.8 L558.7,732.4 L556.8,731.9 L554.8,731.1 L552.9,730.3 L551.1,729.5 L549.6,728.8 L548.4,728.2 L547.7,727.8 L547.7,727.4 L549.1,725.2 L550.0,724.3 L551.1,724.1 L552.5,724.2 L554.3,724.6 L556.2,725.1 L558.2,725.9 L560.1,726.7 L561.9,727.5 L563.4,728.2 L564.6,728.8 L565.3,729.2Z M557.5,741.2 L556.4,741.4 L555.0,741.3 L553.2,740.9 L551.3,740.4 L549.3,739.6 L552.7,734.4 L554.6,735.2 L556.4,736.0 L557.9,736.7 L559.1,737.3 L559.8,737.7Z" fill="#d6d6d6" stroke="#2a2a2a" stroke-width="0.9"/><path d="M577.5,739.4 L578.1,740.2 L579.0,741.0 L580.3,741.8 L581.9,742.6 L583.5,743.4 L585.2,744.2 L586.8,744.8 L588.2,745.4 L589.2,745.8 L589.9,746.1 L590.1,746.3 L589.6,747.3 L590.4,743.6 L590.6,744.0 L590.5,743.4 L589.9,742.6 L589.0,741.8 L587.7,741.0 L586.1,740.2 L584.5,739.4 L582.8,738.6 L581.2,738.0 L579.8,737.4 L578.8,737.0 L578.1,736.7Z M575.5,748.2 L576.1,749.0 L577.0,749.8 L578.3,750.6 L579.9,751.4 L581.5,752.2 L583.2,753.0 L584.8,753.6 L586.2,754.2 L587.2,754.6 L587.9,754.9 L588.1,755.1 L587.6,756.1 L588.4,752.4 L588.6,752.8 L588.5,752.2 L587.9,751.4 L587.0,750.6 L585.7,749.8 L584.1,749.0 L582.5,748.2 L580.8,747.4 L579.2,746.8 L577.8,746.2 L576.8,745.8 L576.1,745.5Z M573.5,757.0 L574.1,757.8 L575.0,758.6 L576.3,759.4 L577.9,760.2 L579.5,761.0 L580.5,757.0 L578.8,756.2 L577.2,755.6 L575.8,755.0 L574.8,754.6 L574.1,754.3Z" fill="#8a8a8a" stroke="#2a2a2a" stroke-width="0.8"/><path d="M584.4,739.7 L582.5,739.7 L580.8,739.5 L579.4,739.4 L578.3,739.2 L577.6,739.2 L577.3,739.1 L577.5,739.4 L578.1,736.7 L578.0,736.1 L578.4,735.5 L579.2,735.0 L580.5,734.6 L582.0,734.4 L583.8,734.3 L585.6,734.3Z M589.6,747.3 L588.8,747.8 L587.5,748.2 L586.0,748.4 L584.2,748.5 L582.4,748.5 L580.5,748.5 L578.8,748.3 L577.4,748.2 L576.3,748.0 L575.6,748.0 L575.3,747.9 L575.5,748.2 L576.1,745.5 L576.0,744.9 L576.4,744.3 L577.2,743.8 L578.5,743.4 L580.0,743.2 L581.8,743.1 L583.6,743.1 L585.5,743.1 L587.2,743.3 L588.6,743.4 L589.7,743.6 L590.4,743.6Z M587.6,756.1 L586.8,756.6 L585.5,757.0 L584.0,757.2 L582.2,757.3 L580.4,757.3 L578.5,757.3 L576.8,757.1 L575.4,757.0 L574.3,756.8 L573.6,756.8 L573.3,756.7 L573.5,757.0 L574.1,754.3 L574.0,753.7 L574.4,753.1 L575.2,752.6 L576.5,752.2 L578.0,752.0 L579.8,751.9 L581.6,751.9 L583.5,751.9 L585.2,752.1 L586.6,752.2 L587.7,752.4 L588.4,752.4Z" fill="#d6d6d6" stroke="#2a2a2a" stroke-width="0.9"/><path d="M540.4,747.8 L541.3,748.1 L542.6,748.2 L544.0,748.1 L545.5,747.8 L547.1,747.3 L548.7,746.8 L550.1,746.3 L551.3,745.8 L552.2,745.5 L552.8,745.3 L553.1,745.3 L553.7,746.7 L550.8,742.5 L551.3,742.8 L550.6,742.2 L549.7,741.9 L548.4,741.8 L547.0,741.9 L545.5,742.2 L543.9,742.7 L542.3,743.2 L540.9,743.7 L539.7,744.2 L538.8,744.5 L538.2,744.7Z M547.4,757.8 L548.3,758.1 L549.6,758.2 L551.0,758.1 L552.5,757.8 L554.1,757.3 L555.7,756.8 L557.1,756.3 L558.3,755.8 L559.2,755.5 L559.8,755.3 L560.1,755.3 L560.7,756.7 L557.8,752.5 L558.3,752.8 L557.6,752.2 L556.7,751.9 L555.4,751.8 L554.0,751.9 L552.5,752.2 L550.9,752.7 L549.3,753.2 L547.9,753.7 L546.7,754.2 L545.8,754.5 L545.2,754.7Z" fill="#8a8a8a" stroke="#2a2a2a" stroke-width="0.8"/><path d="M544.2,743.1 L543.2,744.4 L542.2,745.5 L541.3,746.4 L540.6,747.0 L540.2,747.5 L540.0,747.6 L540.4,747.8 L538.2,744.7 L537.6,744.2 L537.3,743.3 L537.2,742.2 L537.5,741.0 L538.1,739.6 L538.9,738.3 L539.8,736.9Z M553.7,746.7 L553.8,747.8 L553.5,749.0 L552.9,750.4 L552.1,751.7 L551.2,753.1 L550.2,754.4 L549.2,755.5 L548.3,756.4 L547.6,757.0 L547.2,757.5 L547.0,757.6 L547.4,757.8 L545.2,754.7 L544.6,754.2 L544.3,753.3 L544.2,752.2 L544.5,751.0 L545.1,749.6 L545.9,748.3 L546.8,746.9 L547.8,745.6 L548.8,744.5 L549.7,743.6 L550.4,743.0 L550.8,742.5Z M560.7,756.7 L560.8,757.8 L560.5,759.0 L559.9,760.4 L559.1,761.7 L558.2,763.1 L553.8,756.9 L554.8,755.6 L555.8,754.5 L556.7,753.6 L557.4,753.0 L557.8,752.5Z" fill="#d6d6d6" stroke="#2a2a2a" stroke-width="0.9"/><path d="M612.0,727.1 L613.1,727.4 L614.3,727.4 L615.7,727.2 L617.3,726.8 L618.9,726.3 L620.4,725.7 L621.8,725.1 L622.9,724.6 L623.8,724.2 L624.4,724.0 L624.7,724.0 L625.5,725.4 L622.2,721.2 L622.7,721.5 L622.0,720.9 L620.9,720.6 L619.7,720.6 L618.3,720.8 L616.7,721.2 L615.1,721.7 L613.6,722.3 L612.2,722.9 L611.1,723.4 L610.2,723.8 L609.6,724.0Z M620.0,737.1 L621.1,737.4 L622.3,737.4 L623.7,737.2 L625.3,736.8 L626.9,736.3 L623.1,731.7 L621.6,732.3 L620.2,732.9 L619.1,733.4 L618.2,733.8 L617.6,734.0Z" fill="#8a8a8a" stroke="#2a2a2a" stroke-width="0.8"/><path d="M615.5,722.1 L614.6,723.4 L613.7,724.6 L612.8,725.6 L612.2,726.3 L611.8,726.8 L611.7,727.0 L612.0,727.1 L609.6,724.0 L609.0,723.5 L608.5,722.6 L608.4,721.5 L608.5,720.2 L609.0,718.8 L609.7,717.3 L610.5,715.9Z M625.5,725.4 L625.6,726.5 L625.5,727.8 L625.0,729.2 L624.3,730.7 L623.5,732.1 L622.6,733.4 L621.7,734.6 L620.8,735.6 L620.2,736.3 L619.8,736.8 L619.7,737.0 L620.0,737.1 L617.6,734.0 L617.0,733.5 L616.5,732.6 L616.4,731.5 L616.5,730.2 L617.0,728.8 L617.7,727.3 L618.5,725.9 L619.4,724.6 L620.3,723.4 L621.2,722.4 L621.8,721.7 L622.2,721.2Z" fill="#d6d6d6" stroke="#2a2a2a" stroke-width="0.9"/><path d="M623.2,734.9 L624.2,735.2 L625.4,735.1 L626.8,734.9 L628.3,734.4 L629.9,733.8 L631.3,733.2 L632.7,732.5 L633.8,732.0 L634.7,731.5 L635.3,731.3 L635.6,731.3 L636.4,732.5 L633.1,728.7 L633.5,728.9 L632.8,728.4 L631.8,728.2 L630.6,728.2 L629.2,728.5 L627.7,728.9 L626.1,729.5 L624.7,730.2 L623.3,730.8 L622.2,731.4 L621.3,731.8 L620.7,732.0Z M631.2,744.3 L632.2,744.5 L633.4,744.5 L634.8,744.2 L636.3,743.8 L637.9,743.2 L634.1,738.8 L632.7,739.5 L631.3,740.1 L630.2,740.7 L629.3,741.1 L628.7,741.4Z" fill="#8a8a8a" stroke="#2a2a2a" stroke-width="0.8"/><path d="M626.5,729.9 L625.6,731.2 L624.7,732.4 L623.9,733.4 L623.3,734.2 L622.9,734.6 L622.8,734.8 L623.2,734.9 L620.7,732.0 L620.1,731.6 L619.6,730.8 L619.5,729.7 L619.6,728.4 L620.1,727.0 L620.7,725.6 L621.5,724.1Z M636.4,732.5 L636.5,733.6 L636.4,734.9 L635.9,736.3 L635.3,737.8 L634.5,739.2 L633.6,740.6 L632.7,741.8 L631.9,742.8 L631.3,743.5 L630.9,744.0 L630.8,744.2 L631.2,744.3 L628.7,741.4 L628.1,741.0 L627.6,740.1 L627.5,739.0 L627.6,737.7 L628.1,736.3 L628.7,734.9 L629.5,733.4 L630.4,732.1 L631.3,730.9 L632.1,729.9 L632.7,729.2 L633.1,728.7Z" fill="#d6d6d6" stroke="#2a2a2a" stroke-width="0.9"/><path d="M639.4,733.6 L640.3,733.9 L641.6,733.9 L643.1,733.8 L644.7,733.4 L646.4,733.0 L648.0,732.4 L649.6,731.9 L650.8,731.4 L651.8,731.0 L652.5,730.8 L652.8,730.9 L653.3,732.1 L650.8,728.2 L651.2,728.4 L650.6,727.9 L649.7,727.6 L648.4,727.6 L646.9,727.7 L645.3,728.1 L643.6,728.5 L642.0,729.1 L640.4,729.6 L639.2,730.1 L638.2,730.5 L637.5,730.7Z M645.4,743.1 L646.3,743.4 L647.6,743.4 L649.1,743.3 L650.7,742.9 L652.4,742.5 L654.0,741.9 L655.6,741.4 L656.8,740.9 L657.8,740.5 L658.5,740.3 L658.8,740.4 L659.3,741.6 L656.8,737.7 L657.2,737.9 L656.6,737.4 L655.7,737.1 L654.4,737.1 L652.9,737.2 L651.3,737.6 L649.6,738.0 L648.0,738.6 L646.4,739.1 L645.2,739.6 L644.2,740.0 L643.5,740.2Z" fill="#8a8a8a" stroke="#2a2a2a" stroke-width="0.8"/><path d="M643.9,728.9 L642.7,730.2 L641.5,731.3 L640.5,732.2 L639.7,732.9 L639.2,733.3 L639.0,733.5 L639.4,733.6 L637.5,730.7 L637.0,730.2 L636.7,729.4 L636.8,728.3 L637.2,727.1 L638.0,725.8 L639.0,724.4 L640.1,723.1Z M653.3,732.1 L653.2,733.2 L652.8,734.4 L652.0,735.7 L651.0,737.1 L649.9,738.4 L648.7,739.7 L647.5,740.8 L646.5,741.7 L645.7,742.4 L645.2,742.8 L645.0,743.0 L645.4,743.1 L643.5,740.2 L643.0,739.7 L642.7,738.9 L642.8,737.8 L643.2,736.6 L644.0,735.3 L645.0,733.9 L646.1,732.6 L647.3,731.3 L648.5,730.2 L649.5,729.3 L650.3,728.6 L650.8,728.2Z M659.3,741.6 L659.2,742.7 L658.8,743.9 L658.0,745.2 L657.0,746.6 L655.9,747.9 L652.1,742.1 L653.3,740.8 L654.5,739.7 L655.5,738.8 L656.3,738.1 L656.8,737.7Z" fill="#d6d6d6" stroke="#2a2a2a" stroke-width="0.9"/><path d="M596.9,750.2 L597.9,750.4 L599.2,750.2 L600.7,749.9 L602.2,749.3 L603.9,748.6 L605.4,747.8 L606.8,747.1 L608.1,746.4 L609.0,745.9 L609.6,745.6 L609.9,745.6 L610.7,746.8 L607.4,743.1 L607.8,743.3 L607.1,742.8 L606.1,742.6 L604.8,742.8 L603.3,743.1 L601.8,743.7 L600.1,744.4 L598.6,745.2 L597.2,745.9 L595.9,746.6 L595.0,747.1 L594.4,747.4Z M604.9,759.2 L605.9,759.4 L607.2,759.2 L608.7,758.9 L610.2,758.3 L611.9,757.6 L613.4,756.8 L614.8,756.1 L616.1,755.4 L617.0,754.9 L617.6,754.6 L617.9,754.6 L618.7,755.8 L615.4,752.1 L615.8,752.3 L615.1,751.8 L614.1,751.6 L612.8,751.8 L611.3,752.1 L609.8,752.7 L608.1,753.4 L606.6,754.2 L605.2,754.9 L603.9,755.6 L603.0,756.1 L602.4,756.4Z" fill="#8a8a8a" stroke="#2a2a2a" stroke-width="0.8"/><path d="M600.5,744.8 L599.5,746.2 L598.6,747.5 L597.7,748.6 L597.0,749.4 L596.6,749.9 L596.5,750.1 L596.9,750.2 L594.4,747.4 L593.8,747.0 L593.3,746.2 L593.2,745.1 L593.4,743.8 L593.9,742.3 L594.6,740.7 L595.5,739.2Z M610.7,746.8 L610.8,747.9 L610.6,749.2 L610.1,750.7 L609.4,752.3 L608.5,753.8 L607.5,755.2 L606.6,756.5 L605.7,757.6 L605.0,758.4 L604.6,758.9 L604.5,759.1 L604.9,759.2 L602.4,756.4 L601.8,756.0 L601.3,755.2 L601.2,754.1 L601.4,752.8 L601.9,751.3 L602.6,749.7 L603.5,748.2 L604.5,746.8 L605.4,745.5 L606.3,744.4 L607.0,743.6 L607.4,743.1Z M618.7,755.8 L618.8,756.9 L618.6,758.2 L618.1,759.7 L617.4,761.3 L616.5,762.8 L611.5,757.2 L612.5,755.8 L613.4,754.5 L614.3,753.4 L615.0,752.6 L615.4,752.1Z" fill="#d6d6d6" stroke="#2a2a2a" stroke-width="0.9"/><path d="M576.1,774.2 L577.0,773.9 L577.9,773.4 L579.0,772.6 L580.2,771.5 L581.3,770.3 L582.3,769.2 L583.3,768.0 L584.1,767.0 L584.7,766.3 L585.1,765.8 L585.3,765.7 L586.3,766.4 L582.7,764.6 L583.2,764.5 L582.5,764.4 L581.6,764.6 L580.6,765.2 L579.5,766.0 L578.4,767.1 L577.3,768.2 L576.2,769.4 L575.3,770.6 L574.5,771.5 L573.9,772.3 L573.4,772.7Z M584.7,778.7 L585.5,778.5 L586.5,778.0 L587.6,777.1 L588.7,776.1 L589.9,774.9 L590.9,773.7 L591.9,772.6 L592.7,771.6 L593.3,770.9 L593.7,770.4 L593.9,770.3 L594.9,771.0 L591.3,769.1 L591.7,769.1 L591.0,769.0 L590.2,769.2 L589.2,769.8 L588.1,770.6 L587.0,771.6 L585.9,772.8 L584.8,774.0 L583.9,775.1 L583.1,776.1 L582.4,776.9 L582.0,777.3Z M593.2,783.3 L594.1,783.1 L595.1,782.5 L596.2,781.7 L597.3,780.7 L598.4,779.5 L599.5,778.3 L600.4,777.2 L601.2,776.2 L601.8,775.4 L602.3,775.0 L602.5,774.9 L603.4,775.6 L599.9,773.7 L600.3,773.7 L599.6,773.6 L598.8,773.8 L597.8,774.3 L596.7,775.2 L595.6,776.2 L594.4,777.4 L593.4,778.6 L592.4,779.7 L591.6,780.7 L591.0,781.4 L590.6,781.9Z M601.1,787.7 L601.8,787.9 L602.7,787.6 L603.7,787.1 L604.7,786.3 L605.9,785.2 L607.0,784.1 L603.0,781.9 L601.9,783.1 L601.0,784.3 L600.2,785.2 L599.6,786.0 L599.2,786.5 L598.9,786.6Z" fill="#8a8a8a" stroke="#2a2a2a" stroke-width="0.8"/><path d="M577.7,768.4 L577.2,770.0 L576.8,771.4 L576.4,772.5 L576.0,773.4 L575.8,774.0 L575.8,774.2 L576.1,774.2 L573.4,772.7 L572.9,772.7 L572.3,772.1 L571.9,771.2 L571.8,770.1 L571.8,768.7 L572.0,767.2 L572.3,765.6Z M586.3,766.4 L586.6,767.3 L586.8,768.5 L586.8,769.9 L586.6,771.4 L586.2,773.0 L585.8,774.5 L585.4,775.9 L585.0,777.1 L584.6,778.0 L584.4,778.6 L584.4,778.8 L584.7,778.7 L582.0,777.3 L581.4,777.2 L580.9,776.7 L580.5,775.8 L580.3,774.7 L580.4,773.3 L580.6,771.7 L580.9,770.2 L581.3,768.6 L581.8,767.2 L582.2,766.0 L582.5,765.1 L582.7,764.6Z M594.9,771.0 L595.2,771.9 L595.4,773.1 L595.3,774.4 L595.1,776.0 L594.8,777.6 L594.4,779.1 L593.9,780.5 L593.5,781.7 L593.2,782.6 L593.0,783.2 L592.9,783.4 L593.2,783.3 L590.6,781.9 L590.0,781.8 L589.4,781.3 L589.1,780.4 L588.9,779.2 L588.9,777.8 L589.2,776.3 L589.5,774.7 L589.9,773.2 L590.3,771.8 L590.8,770.6 L591.1,769.7 L591.3,769.1Z M603.4,775.6 L603.8,776.5 L603.9,777.6 L603.9,779.0 L603.7,780.5 L603.4,782.1 L603.0,783.7 L602.5,785.1 L602.1,786.3 L601.8,787.2 L601.5,787.7 L601.1,787.7 L598.9,786.6 L598.0,785.8 L597.6,785.0 L597.5,783.8 L597.5,782.4 L597.7,780.9 L598.1,779.3 L598.5,777.8 L598.9,776.4 L599.3,775.2 L599.7,774.3 L599.9,773.7Z" fill="#d6d6d6" stroke="#2a2a2a" stroke-width="0.9"/><path d="M558.2,759.4 L559.1,759.6 L560.2,759.4 L561.5,759.1 L562.9,758.5 L564.2,757.9 L565.5,757.1 L566.7,756.4 L567.7,755.8 L568.5,755.3 L569.0,755.0 L569.2,755.0 L570.1,756.1 L566.6,752.8 L567.1,753.0 L566.3,752.6 L565.4,752.4 L564.3,752.6 L563.0,752.9 L561.6,753.5 L560.3,754.1 L559.0,754.9 L557.8,755.6 L556.8,756.2 L556.0,756.7 L555.5,757.0Z M566.7,767.4 L567.6,767.6 L568.7,767.4 L570.0,767.1 L571.4,766.5 L572.7,765.9 L574.0,765.1 L575.2,764.4 L576.2,763.8 L577.0,763.3 L577.5,763.0 L577.7,763.0 L578.6,764.1 L575.1,760.8 L575.6,761.0 L574.8,760.6 L573.9,760.4 L572.8,760.6 L571.5,760.9 L570.1,761.5 L568.8,762.1 L567.5,762.9 L566.3,763.6 L565.3,764.2 L564.5,764.7 L564.0,765.0Z" fill="#8a8a8a" stroke="#2a2a2a" stroke-width="0.8"/><path d="M560.6,754.5 L560.0,755.8 L559.3,757.0 L558.7,758.0 L558.2,758.7 L557.9,759.2 L557.8,759.4 L558.2,759.4 L555.5,757.0 L554.9,756.6 L554.4,755.9 L554.1,754.9 L554.1,753.7 L554.3,752.3 L554.8,750.9 L555.4,749.5Z M570.1,756.1 L570.4,757.1 L570.4,758.3 L570.2,759.7 L569.7,761.1 L569.1,762.5 L568.5,763.8 L567.8,765.0 L567.2,766.0 L566.7,766.7 L566.4,767.2 L566.3,767.4 L566.7,767.4 L564.0,765.0 L563.4,764.6 L562.9,763.9 L562.6,762.9 L562.6,761.7 L562.8,760.3 L563.3,758.9 L563.9,757.5 L564.5,756.2 L565.2,755.0 L565.8,754.0 L566.3,753.3 L566.6,752.8Z M578.6,764.1 L578.9,765.1 L578.9,766.3 L578.7,767.7 L578.2,769.1 L577.6,770.5 L572.4,765.5 L573.0,764.2 L573.7,763.0 L574.3,762.0 L574.8,761.3 L575.1,760.8Z" fill="#d6d6d6" stroke="#2a2a2a" stroke-width="0.9"/><path d="M601,760 C602.8,762.7 608.3,770.7 612.0,776.0 C615.7,781.3 621.2,789.3 623.0,792.0" fill="none" stroke="#333" stroke-width="7.1" stroke-linecap="butt"/><path d="M601,760 C602.8,762.7 608.3,770.7 612.0,776.0 C615.7,781.3 621.2,789.3 623.0,792.0" fill="none" stroke="#c8c8c8" stroke-width="5.5" stroke-linecap="butt"/><path d="M609,757 C610.8,759.7 616.5,767.7 620.0,773.0 C623.5,778.3 628.3,786.3 630.0,789.0" fill="none" stroke="#333" stroke-width="7.1" stroke-linecap="butt"/><path d="M609,757 C610.8,759.7 616.5,767.7 620.0,773.0 C623.5,778.3 628.3,786.3 630.0,789.0" fill="none" stroke="#bababa" stroke-width="5.5" stroke-linecap="butt"/><path d="M623.8,764.0 L624.8,764.3 L626.0,764.3 L627.6,764.2 L629.3,764.0 L631.2,763.6 L633.0,763.1 L634.6,762.7 L636.0,762.3 L637.1,762.0 L637.8,761.8 L638.1,761.9 L638.4,763.1 L636.6,759.3 L637.0,759.6 L636.5,759.0 L635.6,758.7 L634.3,758.7 L632.7,758.8 L631.0,759.0 L629.2,759.4 L627.4,759.9 L625.7,760.3 L624.3,760.7 L623.2,761.0 L622.5,761.2Z M628.2,773.0 L629.1,773.3 L630.4,773.3 L631.9,773.2 L633.7,773.0 L635.5,772.6 L637.3,772.1 L639.0,771.7 L640.4,771.3 L641.5,771.0 L642.2,770.8 L642.4,770.9 L642.8,772.1 L641.0,768.3 L641.3,768.6 L640.8,768.0 L639.9,767.7 L638.6,767.7 L637.1,767.8 L635.3,768.0 L633.5,768.4 L631.7,768.9 L630.0,769.3 L628.6,769.7 L627.5,770.0 L626.8,770.2Z M632.5,782.0 L633.4,782.3 L634.7,782.3 L636.3,782.2 L638.0,782.0 L639.8,781.6 L641.6,781.1 L643.3,780.7 L644.7,780.3 L645.8,780.0 L646.5,779.8 L646.8,779.9 L647.1,781.1 L645.3,777.3 L645.7,777.6 L645.2,777.0 L644.2,776.7 L643.0,776.7 L641.4,776.8 L639.7,777.0 L637.8,777.4 L636.0,777.9 L634.4,778.3 L633.0,778.7 L631.9,779.0 L631.2,779.2Z" fill="#8a8a8a" stroke="#2a2a2a" stroke-width="0.8"/><path d="M629.3,759.8 L627.9,760.9 L626.5,761.9 L625.2,762.7 L624.3,763.3 L623.7,763.7 L623.5,763.8 L623.8,764.0 L622.5,761.2 L622.0,760.8 L621.9,759.9 L622.2,759.0 L622.9,757.9 L623.9,756.6 L625.2,755.4 L626.7,754.2Z M638.4,763.1 L638.1,764.0 L637.4,765.1 L636.4,766.4 L635.1,767.6 L633.7,768.8 L632.2,769.9 L630.8,770.9 L629.6,771.7 L628.6,772.3 L628.0,772.7 L627.8,772.8 L628.2,773.0 L626.8,770.2 L626.4,769.8 L626.2,768.9 L626.6,768.0 L627.2,766.9 L628.3,765.6 L629.6,764.4 L631.0,763.2 L632.5,762.1 L633.9,761.1 L635.1,760.3 L636.0,759.7 L636.6,759.3Z M642.8,772.1 L642.4,773.0 L641.8,774.1 L640.7,775.4 L639.4,776.6 L638.0,777.8 L636.5,778.9 L635.1,779.9 L633.9,780.7 L633.0,781.3 L632.4,781.7 L632.2,781.8 L632.5,782.0 L631.2,779.2 L630.7,778.8 L630.6,777.9 L630.9,777.0 L631.6,775.9 L632.6,774.6 L633.9,773.4 L635.3,772.2 L636.8,771.1 L638.2,770.1 L639.4,769.3 L640.4,768.7 L641.0,768.3Z M647.1,781.1 L646.8,782.0 L646.1,783.1 L645.1,784.4 L643.8,785.6 L642.3,786.8 L639.7,781.2 L641.1,780.1 L642.5,779.1 L643.8,778.3 L644.7,777.7 L645.3,777.3Z" fill="#d6d6d6" stroke="#2a2a2a" stroke-width="0.9"/><path d="M626.2,798.1 L627.2,798.6 L628.4,798.8 L629.8,798.8 L631.3,798.6 L632.9,798.3 L634.3,797.9 L635.7,797.5 L636.8,797.1 L637.7,796.9 L638.2,796.7 L638.5,796.8 L639.3,798.3 L636.0,793.6 L636.5,793.9 L635.8,793.2 L634.8,792.8 L633.6,792.6 L632.2,792.5 L630.7,792.7 L629.1,793.0 L627.7,793.4 L626.3,793.8 L625.2,794.2 L624.3,794.5 L623.8,794.6Z M634.2,809.5 L635.2,809.9 L636.4,810.1 L637.8,810.1 L639.3,809.9 L640.9,809.6 L637.1,804.4 L635.7,804.8 L634.3,805.2 L633.2,805.5 L632.3,805.8 L631.8,805.9Z" fill="#8a8a8a" stroke="#2a2a2a" stroke-width="0.8"/><path d="M629.5,793.5 L628.6,794.8 L627.8,795.8 L627.0,796.7 L626.4,797.4 L626.0,797.8 L625.9,797.9 L626.2,798.1 L623.8,794.6 L623.1,794.1 L622.7,793.1 L622.5,791.9 L622.7,790.6 L623.1,789.2 L623.7,787.8 L624.5,786.5Z M639.3,798.3 L639.5,799.4 L639.3,800.7 L638.9,802.1 L638.3,803.5 L637.5,804.8 L636.6,806.1 L635.8,807.2 L635.0,808.0 L634.4,808.7 L634.0,809.1 L633.9,809.3 L634.2,809.5 L631.8,805.9 L631.1,805.4 L630.7,804.4 L630.5,803.2 L630.7,801.9 L631.1,800.6 L631.7,799.2 L632.5,797.8 L633.4,796.6 L634.2,795.5 L635.0,794.6 L635.6,794.0 L636.0,793.6Z" fill="#d6d6d6" stroke="#2a2a2a" stroke-width="0.9"/><path d="M746,662 C747.7,662.8 753.8,663.7 756.0,667.0 C758.2,670.3 759.7,677.8 759.0,682.0 C758.3,686.2 755.2,690.7 752.0,692.0 C748.8,693.3 742.8,691.3 740.0,690.0 C737.2,688.7 735.8,685.0 735.0,684.0" fill="none" stroke="#555555" stroke-width="2.6" stroke-linecap="round"/><path d="M746,662 C747.7,662.8 753.8,663.7 756.0,667.0 C758.2,670.3 759.7,677.8 759.0,682.0 C758.3,686.2 755.2,690.7 752.0,692.0 C748.8,693.3 742.8,691.3 740.0,690.0 C737.2,688.7 735.8,685.0 735.0,684.0" fill="none" stroke="#d0d0d0" stroke-width="1.0" stroke-linecap="round"/><path d="M796,716 C797.3,718.8 803.7,728.8 804.0,733.0 C804.3,737.2 801.0,740.2 798.0,741.0 C795.0,741.8 788.0,738.5 786.0,738.0" fill="none" stroke="#555555" stroke-width="2.6" stroke-linecap="round"/><path d="M796,716 C797.3,718.8 803.7,728.8 804.0,733.0 C804.3,737.2 801.0,740.2 798.0,741.0 C795.0,741.8 788.0,738.5 786.0,738.0" fill="none" stroke="#d0d0d0" stroke-width="1.0" stroke-linecap="round"/><path d="M804,735 C802.7,737.2 798.7,744.3 796.0,748.0 C793.3,751.7 789.3,755.5 788.0,757.0" fill="none" stroke="#555555" stroke-width="2.6" stroke-linecap="round"/><path d="M804,735 C802.7,737.2 798.7,744.3 796.0,748.0 C793.3,751.7 789.3,755.5 788.0,757.0" fill="none" stroke="#d0d0d0" stroke-width="1.0" stroke-linecap="round"/><path d="M788,757 C785.0,760.0 776.3,770.8 770.0,775.0 C763.7,779.2 755.5,780.0 750.0,782.0 C744.5,784.0 741.5,786.5 737.0,787.0 C732.5,787.5 725.3,785.3 723.0,785.0" fill="none" stroke="#555555" stroke-width="2.6" stroke-linecap="round"/><path d="M788,757 C785.0,760.0 776.3,770.8 770.0,775.0 C763.7,779.2 755.5,780.0 750.0,782.0 C744.5,784.0 741.5,786.5 737.0,787.0 C732.5,787.5 725.3,785.3 723.0,785.0" fill="none" stroke="#d0d0d0" stroke-width="1.0" stroke-linecap="round"/><path d="M722,790 C722.0,791.7 724.0,798.5 722.0,800.0 C720.0,801.5 712.7,798.0 710.0,799.0 C707.3,800.0 706.7,804.8 706.0,806.0" fill="none" stroke="#555555" stroke-width="2.6" stroke-linecap="round"/><path d="M722,790 C722.0,791.7 724.0,798.5 722.0,800.0 C720.0,801.5 712.7,798.0 710.0,799.0 C707.3,800.0 706.7,804.8 706.0,806.0" fill="none" stroke="#d0d0d0" stroke-width="1.0" stroke-linecap="round"/><path d="M705,806 L705,824" fill="none" stroke="#555555" stroke-width="2.3" stroke-linecap="round"/><path d="M705,806 L705,824" fill="none" stroke="#d0d0d0" stroke-width="0.7000000000000001" stroke-linecap="round"/><path d="M698,808 C697.5,804.8 697.3,796.5 695.0,789.0 C692.7,781.5 685.8,767.3 684.0,763.0" fill="none" stroke="#555555" stroke-width="2.6" stroke-linecap="round"/><path d="M698,808 C697.5,804.8 697.3,796.5 695.0,789.0 C692.7,781.5 685.8,767.3 684.0,763.0" fill="none" stroke="#d0d0d0" stroke-width="1.0" stroke-linecap="round"/><path d="M706,700 C707.0,698.3 709.3,692.0 712.0,690.0 C714.7,688.0 718.7,686.3 722.0,688.0 C725.3,689.7 730.3,698.0 732.0,700.0" fill="none" stroke="#555555" stroke-width="2.6" stroke-linecap="round"/><path d="M706,700 C707.0,698.3 709.3,692.0 712.0,690.0 C714.7,688.0 718.7,686.3 722.0,688.0 C725.3,689.7 730.3,698.0 732.0,700.0" fill="none" stroke="#d0d0d0" stroke-width="1.0" stroke-linecap="round"/><path d="M763,700 C765.5,702.0 773.5,707.0 778.0,712.0 C782.5,717.0 788.0,727.0 790.0,730.0" fill="none" stroke="#555555" stroke-width="2.6" stroke-linecap="round"/><path d="M763,700 C765.5,702.0 773.5,707.0 778.0,712.0 C782.5,717.0 788.0,727.0 790.0,730.0" fill="none" stroke="#d0d0d0" stroke-width="1.0" stroke-linecap="round"/><path d="M758,681 C761.0,682.5 770.7,686.2 776.0,690.0 C781.3,693.8 786.5,699.7 790.0,704.0 C793.5,708.3 795.8,714.0 797.0,716.0" fill="none" stroke="#333" stroke-width="5.6" stroke-linecap="butt"/><path d="M758,681 C761.0,682.5 770.7,686.2 776.0,690.0 C781.3,693.8 786.5,699.7 790.0,704.0 C793.5,708.3 795.8,714.0 797.0,716.0" fill="none" stroke="#cdcdcd" stroke-width="4" stroke-linecap="butt"/><path d="M762,686 C764.7,687.8 773.2,692.7 778.0,697.0 C782.8,701.3 788.8,709.5 791.0,712.0" fill="none" stroke="#333" stroke-width="4.1" stroke-linecap="butt"/><path d="M762,686 C764.7,687.8 773.2,692.7 778.0,697.0 C782.8,701.3 788.8,709.5 791.0,712.0" fill="none" stroke="#9a9a9a" stroke-width="2.5" stroke-linecap="butt"/><path d="M735.7,663.3 L736.2,663.8 L737.1,664.3 L738.2,664.7 L739.6,665.1 L741.0,665.4 L742.4,665.7 L743.8,666.0 L744.9,666.1 L745.8,666.3 L746.3,666.4 L746.5,666.5 L746.3,667.4 L746.3,664.3 L746.5,664.6 L746.3,664.1 L745.8,663.6 L744.9,663.1 L743.8,662.7 L742.4,662.3 L741.0,662.0 L739.6,661.7 L738.2,661.5 L737.1,661.3 L736.2,661.1 L735.7,661.0Z M735.7,670.7 L736.2,671.2 L737.1,671.7 L738.2,672.1 L739.6,672.5 L741.0,672.9 L742.4,673.2 L743.8,673.4 L744.9,673.6 L745.8,673.7 L746.3,673.8 L746.5,673.9 L746.3,674.8 L746.3,671.8 L746.5,672.1 L746.3,671.5 L745.8,671.0 L744.9,670.6 L743.8,670.1 L742.4,669.8 L741.0,669.4 L739.6,669.1 L738.2,668.9 L737.1,668.7 L736.2,668.6 L735.7,668.4Z M735.7,678.2 L736.2,678.7 L737.1,679.1 L738.2,679.6 L739.6,680.0 L741.0,680.3 L742.4,680.6 L743.8,680.8 L744.9,681.0 L745.8,681.1 L746.3,681.3 L746.5,681.4 L746.3,682.3 L746.3,679.2 L746.5,679.5 L746.3,679.0 L745.8,678.5 L744.9,678.0 L743.8,677.6 L742.4,677.2 L741.0,676.8 L739.6,676.6 L738.2,676.3 L737.1,676.1 L736.2,676.0 L735.7,675.9Z M735.5,685.1 L735.7,685.6 L736.2,686.1 L737.1,686.6 L738.2,687.0 L739.6,687.4 L741.0,687.7 L741.0,684.3 L739.6,684.0 L738.2,683.8 L737.1,683.6 L736.2,683.4 L735.7,683.3 L735.5,683.2Z" fill="#8a8a8a" stroke="#2a2a2a" stroke-width="0.8"/><path d="M741.0,662.3 L739.6,662.6 L738.2,662.8 L737.1,662.9 L736.2,663.0 L735.7,663.1 L735.5,663.1 L735.7,663.3 L735.7,661.0 L735.5,660.6 L735.7,660.0 L736.2,659.5 L737.1,658.9 L738.2,658.5 L739.6,658.0 L741.0,657.7Z M746.3,667.4 L745.8,668.0 L744.9,668.5 L743.8,669.0 L742.4,669.4 L741.0,669.7 L739.6,670.0 L738.2,670.2 L737.1,670.4 L736.2,670.5 L735.7,670.5 L735.5,670.6 L735.7,670.7 L735.7,668.4 L735.5,668.0 L735.7,667.4 L736.2,666.9 L737.1,666.4 L738.2,665.9 L739.6,665.5 L741.0,665.1 L742.4,664.9 L743.8,664.6 L744.9,664.5 L745.8,664.4 L746.3,664.3Z M746.3,674.8 L745.8,675.4 L744.9,675.9 L743.8,676.4 L742.4,676.8 L741.0,677.2 L739.6,677.4 L738.2,677.6 L737.1,677.8 L736.2,677.9 L735.7,677.9 L735.5,678.0 L735.7,678.2 L735.7,675.9 L735.5,675.4 L735.7,674.9 L736.2,674.3 L737.1,673.8 L738.2,673.3 L739.6,672.9 L741.0,672.6 L742.4,672.3 L743.8,672.1 L744.9,671.9 L745.8,671.8 L746.3,671.8Z M746.3,682.3 L745.8,682.8 L744.9,683.4 L743.8,683.8 L742.4,684.2 L741.0,684.6 L739.6,684.9 L738.2,685.1 L737.1,685.2 L736.2,685.3 L735.7,685.4 L735.5,685.1 L735.5,683.2 L735.7,682.3 L736.2,681.7 L737.1,681.2 L738.2,680.7 L739.6,680.3 L741.0,680.0 L742.4,679.7 L743.8,679.5 L744.9,679.4 L745.8,679.3 L746.3,679.2Z" fill="#d6d6d6" stroke="#2a2a2a" stroke-width="0.9"/><path d="M701.3,684.6 L702.2,685.3 L703.4,685.8 L705.0,686.3 L706.9,686.6 L708.9,686.9 L710.9,687.1 L712.7,687.2 L714.3,687.3 L715.5,687.4 L716.2,687.5 L716.5,687.7 L716.4,689.0 L715.9,684.5 L716.2,684.9 L715.9,684.2 L715.0,683.5 L713.8,683.0 L712.2,682.5 L710.3,682.2 L708.3,681.9 L706.3,681.7 L704.5,681.6 L702.9,681.5 L701.7,681.4 L701.0,681.3Z M702.5,695.4 L703.4,696.1 L704.6,696.6 L706.2,697.1 L708.1,697.4 L710.1,697.7 L712.1,697.9 L713.9,698.0 L715.5,698.1 L716.7,698.2 L717.4,698.3 L717.7,698.5 L717.6,699.8 L717.1,695.3 L717.4,695.7 L717.1,695.0 L716.2,694.3 L715.0,693.8 L713.4,693.3 L711.5,693.0 L709.5,692.7 L707.5,692.5 L705.7,692.4 L704.1,692.3 L702.9,692.2 L702.2,692.1Z M703.7,706.2 L704.6,706.9 L705.8,707.4 L707.4,707.9 L709.3,708.2 L711.3,708.5 L710.7,703.5 L708.7,703.3 L706.9,703.2 L705.3,703.1 L704.1,703.0 L703.4,702.9Z" fill="#8a8a8a" stroke="#2a2a2a" stroke-width="0.8"/><path d="M708.4,682.3 L706.5,683.0 L704.7,683.5 L703.2,683.8 L702.0,684.1 L701.3,684.3 L701.1,684.4 L701.3,684.6 L701.0,681.3 L700.6,680.7 L700.8,679.8 L701.5,678.9 L702.6,678.0 L704.0,677.2 L705.8,676.4 L707.6,675.7Z M716.4,689.0 L715.7,689.9 L714.6,690.8 L713.2,691.6 L711.4,692.4 L709.6,693.1 L707.7,693.8 L705.9,694.3 L704.4,694.6 L703.2,694.9 L702.5,695.1 L702.3,695.2 L702.5,695.4 L702.2,692.1 L701.8,691.5 L702.0,690.6 L702.7,689.7 L703.8,688.8 L705.2,688.0 L707.0,687.2 L708.8,686.5 L710.7,685.8 L712.5,685.3 L714.0,685.0 L715.2,684.7 L715.9,684.5Z M717.6,699.8 L716.9,700.7 L715.8,701.6 L714.4,702.4 L712.6,703.2 L710.8,703.9 L708.9,704.6 L707.1,705.1 L705.6,705.4 L704.4,705.7 L703.7,705.9 L703.5,706.0 L703.7,706.2 L703.4,702.9 L703.0,702.3 L703.2,701.4 L703.9,700.5 L705.0,699.6 L706.4,698.8 L708.2,698.0 L710.0,697.3 L711.9,696.6 L713.7,696.1 L715.2,695.8 L716.4,695.5 L717.1,695.3Z" fill="#d6d6d6" stroke="#2a2a2a" stroke-width="0.9"/><path d="M742.3,717.0 L743.3,717.5 L744.6,718.0 L746.3,718.3 L748.2,718.4 L750.2,718.4 L752.2,718.4 L754.0,718.3 L755.6,718.2 L756.8,718.1 L757.6,718.1 L757.9,718.2 L758.0,719.7 L756.8,714.9 L757.1,715.3 L756.7,714.5 L755.7,714.0 L754.4,713.5 L752.7,713.2 L750.8,713.1 L748.8,713.1 L746.8,713.1 L745.0,713.2 L743.4,713.3 L742.2,713.4 L741.4,713.4Z M745.3,728.5 L746.3,729.0 L747.6,729.5 L749.3,729.8 L751.2,729.9 L753.2,729.9 L755.2,729.9 L757.0,729.8 L758.6,729.7 L759.8,729.6 L760.6,729.6 L760.9,729.7 L761.0,731.2 L759.8,726.4 L760.1,726.8 L759.7,726.0 L758.7,725.5 L757.4,725.0 L755.7,724.7 L753.8,724.6 L751.8,724.6 L749.8,724.6 L748.0,724.7 L746.4,724.8 L745.2,724.9 L744.4,724.9Z M748.3,740.0 L749.3,740.5 L750.6,741.0 L752.3,741.3 L754.2,741.4 L756.2,741.4 L758.2,741.4 L760.0,741.3 L761.6,741.2 L762.8,741.1 L763.6,741.1 L763.9,741.2 L764.0,742.7 L762.8,737.9 L763.1,738.3 L762.7,737.5 L761.7,737.0 L760.4,736.5 L758.7,736.2 L756.8,736.1 L754.8,736.1 L752.8,736.1 L751.0,736.2 L749.4,736.3 L748.2,736.4 L747.4,736.4Z M750.9,750.7 L751.3,751.5 L752.3,752.0 L753.6,752.5 L755.3,752.8 L757.2,752.9 L759.2,752.9 L761.2,752.9 L763.0,752.8 L764.6,752.7 L765.8,752.6 L766.6,752.6 L766.9,752.7 L767.0,754.2 L765.8,749.4 L766.1,749.8 L765.7,749.0 L764.7,748.5 L763.4,748.0 L761.7,747.7 L759.8,747.6 L757.8,747.6 L755.8,747.6 L754.0,747.7 L752.4,747.8 L751.2,747.9 L750.4,747.9 L750.1,747.8Z" fill="#8a8a8a" stroke="#2a2a2a" stroke-width="0.8"/><path d="M748.9,713.6 L747.2,714.5 L745.5,715.3 L744.1,715.9 L742.9,716.3 L742.2,716.6 L742.0,716.7 L742.3,717.0 L741.4,713.4 L741.0,712.8 L741.0,711.8 L741.5,710.8 L742.4,709.7 L743.7,708.6 L745.3,707.5 L747.1,706.4Z M758.0,719.7 L757.5,720.7 L756.6,721.8 L755.3,722.9 L753.7,724.0 L751.9,725.1 L750.2,726.0 L748.5,726.8 L747.1,727.4 L745.9,727.8 L745.2,728.1 L745.0,728.2 L745.3,728.5 L744.4,724.9 L744.0,724.3 L744.0,723.3 L744.5,722.3 L745.4,721.2 L746.7,720.1 L748.3,719.0 L750.1,717.9 L751.8,717.0 L753.5,716.2 L754.9,715.6 L756.1,715.2 L756.8,714.9Z M761.0,731.2 L760.5,732.2 L759.6,733.3 L758.3,734.4 L756.7,735.5 L754.9,736.6 L753.2,737.5 L751.5,738.3 L750.1,738.9 L748.9,739.3 L748.2,739.6 L748.0,739.7 L748.3,740.0 L747.4,736.4 L747.0,735.8 L747.0,734.8 L747.5,733.8 L748.4,732.7 L749.7,731.6 L751.3,730.5 L753.1,729.4 L754.8,728.5 L756.5,727.7 L757.9,727.1 L759.1,726.7 L759.8,726.4Z M764.0,742.7 L763.5,743.7 L762.6,744.8 L761.3,745.9 L759.7,747.0 L757.9,748.1 L756.2,749.0 L754.5,749.8 L753.1,750.4 L751.9,750.8 L751.2,751.1 L750.9,750.7 L750.1,747.8 L750.0,746.3 L750.5,745.3 L751.4,744.2 L752.7,743.1 L754.3,742.0 L756.1,740.9 L757.8,740.0 L759.5,739.2 L760.9,738.6 L762.1,738.2 L762.8,737.9Z M767.0,754.2 L766.5,755.2 L765.6,756.3 L764.3,757.4 L762.7,758.5 L760.9,759.6 L759.1,752.4 L760.8,751.5 L762.5,750.7 L763.9,750.1 L765.1,749.7 L765.8,749.4Z" fill="#d6d6d6" stroke="#2a2a2a" stroke-width="0.9"/><path d="M753.9,713.0 L754.9,713.2 L756.3,713.2 L757.9,713.0 L759.8,712.5 L761.7,711.9 L763.5,711.1 L765.3,710.4 L766.8,709.7 L768.0,709.2 L768.8,708.9 L769.2,708.9 L769.8,710.0 L767.0,706.0 L767.3,706.2 L766.5,705.7 L765.4,705.5 L763.9,705.6 L762.2,706.0 L760.3,706.5 L758.4,707.2 L756.6,707.9 L754.9,708.7 L753.5,709.3 L752.5,709.7 L751.8,710.0Z M760.9,723.0 L761.9,723.2 L763.3,723.2 L764.9,723.0 L766.8,722.5 L768.7,721.9 L770.5,721.1 L772.3,720.4 L773.8,719.7 L775.0,719.2 L775.8,718.9 L776.2,718.9 L776.8,720.0 L774.0,716.0 L774.3,716.2 L773.5,715.7 L772.4,715.5 L770.9,715.6 L769.2,716.0 L767.3,716.5 L765.4,717.2 L763.6,717.9 L761.9,718.7 L760.5,719.3 L759.5,719.7 L758.8,720.0Z M767.9,733.0 L768.9,733.2 L770.3,733.2 L771.9,733.0 L773.8,732.5 L775.7,731.9 L777.5,731.1 L779.3,730.4 L780.8,729.7 L782.0,729.2 L782.8,728.9 L783.2,728.9 L783.8,730.0 L781.0,726.0 L781.3,726.2 L780.5,725.7 L779.4,725.5 L777.9,725.6 L776.2,726.0 L774.3,726.5 L772.4,727.2 L770.6,727.9 L768.9,728.7 L767.5,729.3 L766.5,729.7 L765.8,730.0Z M774.9,743.0 L775.9,743.2 L777.3,743.2 L778.9,743.0 L780.8,742.5 L782.7,741.9 L784.5,741.1 L786.3,740.4 L787.8,739.7 L789.0,739.2 L789.8,738.9 L790.2,738.9 L790.8,740.0 L788.0,736.0 L788.3,736.2 L787.5,735.7 L786.4,735.5 L784.9,735.6 L783.2,736.0 L781.3,736.5 L779.4,737.2 L777.6,737.9 L775.9,738.7 L774.5,739.3 L773.5,739.7 L772.8,740.0Z" fill="#8a8a8a" stroke="#2a2a2a" stroke-width="0.8"/><path d="M754.6,712.1 L753.9,712.6 L753.7,712.9 L753.9,713.0 L751.8,710.0 L751.2,709.4 L750.9,708.4 L751.1,707.2Z M769.8,710.0 L769.8,711.2 L769.4,712.5 L768.6,714.1 L767.5,715.6 L766.3,717.2 L765.0,718.7 L763.7,720.1 L762.5,721.2 L761.6,722.1 L760.9,722.6 L760.7,722.9 L760.9,723.0 L758.8,720.0 L758.2,719.4 L757.9,718.4 L758.1,717.2 L758.7,715.7 L759.5,714.2 L760.7,712.6 L762.0,711.0 L763.3,709.6 L764.6,708.3 L765.7,707.3 L766.5,706.5 L767.0,706.0Z M776.8,720.0 L776.8,721.2 L776.4,722.5 L775.6,724.1 L774.5,725.6 L773.3,727.2 L772.0,728.7 L770.7,730.1 L769.5,731.2 L768.6,732.1 L767.9,732.6 L767.7,732.9 L767.9,733.0 L765.8,730.0 L765.2,729.4 L764.9,728.4 L765.1,727.2 L765.7,725.7 L766.5,724.2 L767.7,722.6 L769.0,721.0 L770.3,719.6 L771.6,718.3 L772.7,717.3 L773.5,716.5 L774.0,716.0Z M783.8,730.0 L783.8,731.2 L783.4,732.5 L782.6,734.1 L781.5,735.6 L780.3,737.2 L779.0,738.7 L777.7,740.1 L776.5,741.2 L775.6,742.1 L774.9,742.6 L774.7,742.9 L774.9,743.0 L772.8,740.0 L772.2,739.4 L771.9,738.4 L772.1,737.2 L772.7,735.7 L773.5,734.2 L774.7,732.6 L776.0,731.0 L777.3,729.6 L778.6,728.3 L779.7,727.3 L780.5,726.5 L781.0,726.0Z M790.8,740.0 L790.8,741.2 L790.4,742.5 L789.6,744.1 L788.5,745.6 L787.3,747.2 L786.0,748.7 L784.7,750.1 L783.5,751.2 L782.6,752.1 L779.1,747.2 L779.7,745.7 L780.5,744.2 L781.7,742.6 L783.0,741.0 L784.3,739.6 L785.6,738.3 L786.7,737.3 L787.5,736.5 L788.0,736.0Z" fill="#d6d6d6" stroke="#2a2a2a" stroke-width="0.9"/><path d="M696.9,729.3 L698.1,729.5 L699.5,729.5 L701.1,729.1 L702.8,728.5 L704.4,727.7 L706.0,726.8 L707.4,726.0 L708.6,725.3 L709.5,724.7 L710.2,724.4 L710.5,724.4 L711.7,725.8 L707.0,721.5 L707.5,721.7 L706.6,721.2 L705.4,721.0 L704.0,721.0 L702.4,721.4 L700.7,722.0 L699.1,722.8 L697.5,723.7 L696.1,724.5 L694.9,725.2 L694.0,725.8 L693.3,726.1Z M708.4,739.8 L709.6,740.0 L711.0,740.0 L712.6,739.6 L714.3,739.0 L715.9,738.2 L717.5,737.3 L718.9,736.5 L720.1,735.8 L721.0,735.2 L721.7,734.9 L722.0,734.9 L723.2,736.3 L718.5,732.0 L719.0,732.2 L718.1,731.7 L716.9,731.5 L715.5,731.5 L713.9,731.9 L712.2,732.5 L710.6,733.3 L709.0,734.2 L707.6,735.0 L706.4,735.7 L705.5,736.3 L704.8,736.6Z" fill="#8a8a8a" stroke="#2a2a2a" stroke-width="0.8"/><path d="M699.6,723.3 L698.9,724.9 L698.1,726.3 L697.4,727.5 L696.9,728.4 L696.5,729.0 L696.5,729.2 L696.9,729.3 L693.3,726.1 L692.5,725.6 L691.8,724.7 L691.4,723.4 L691.2,721.9 L691.4,720.2 L691.8,718.5 L692.4,716.7Z M711.7,725.8 L712.1,727.1 L712.3,728.6 L712.1,730.3 L711.7,732.0 L711.1,733.8 L710.4,735.4 L709.6,736.8 L708.9,738.0 L708.4,738.9 L708.0,739.5 L708.0,739.7 L708.4,739.8 L704.8,736.6 L704.0,736.1 L703.3,735.2 L702.9,733.9 L702.7,732.4 L702.9,730.7 L703.3,729.0 L703.9,727.2 L704.6,725.6 L705.4,724.2 L706.1,723.0 L706.6,722.1 L707.0,721.5Z M723.2,736.3 L723.6,737.6 L723.8,739.1 L723.6,740.8 L723.2,742.5 L722.6,744.3 L715.4,737.7 L716.1,736.1 L716.9,734.7 L717.6,733.5 L718.1,732.6 L718.5,732.0Z" fill="#d6d6d6" stroke="#2a2a2a" stroke-width="0.9"/><path d="M683.6,745.9 L684.8,746.1 L686.2,746.0 L687.7,745.7 L689.3,745.1 L690.8,744.3 L692.2,743.5 L693.5,742.7 L694.6,742.0 L695.5,741.5 L696.1,741.2 L696.4,741.2 L697.7,742.5 L692.7,738.4 L693.3,738.6 L692.4,738.1 L691.2,737.9 L689.8,738.0 L688.3,738.3 L686.7,738.9 L685.2,739.7 L683.8,740.5 L682.5,741.3 L681.4,742.0 L680.5,742.5 L679.9,742.8Z M695.6,755.9 L696.8,756.1 L698.2,756.0 L699.7,755.7 L701.3,755.1 L702.8,754.3 L697.2,749.7 L695.8,750.5 L694.5,751.3 L693.4,752.0 L692.5,752.5 L691.9,752.8Z" fill="#8a8a8a" stroke="#2a2a2a" stroke-width="0.8"/><path d="M685.7,740.1 L685.2,741.7 L684.6,743.1 L684.0,744.2 L683.6,745.1 L683.3,745.6 L683.2,745.8 L683.6,745.9 L679.9,742.8 L679.1,742.4 L678.3,741.5 L677.8,740.3 L677.6,738.8 L677.6,737.2 L677.8,735.6 L678.3,733.9Z M697.7,742.5 L698.2,743.7 L698.4,745.2 L698.4,746.8 L698.2,748.4 L697.7,750.1 L697.2,751.7 L696.6,753.1 L696.0,754.2 L695.6,755.1 L695.3,755.6 L695.2,755.8 L695.6,755.9 L691.9,752.8 L691.1,752.4 L690.3,751.5 L689.8,750.3 L689.6,748.8 L689.6,747.2 L689.8,745.6 L690.3,743.9 L690.8,742.3 L691.4,740.9 L692.0,739.8 L692.4,738.9 L692.7,738.4Z" fill="#d6d6d6" stroke="#2a2a2a" stroke-width="0.9"/><path d="M690.5,772.9 L691.5,773.3 L692.8,773.5 L694.4,773.5 L696.2,773.3 L698.1,772.9 L699.9,772.5 L701.6,772.0 L703.0,771.7 L704.1,771.4 L704.8,771.2 L705.1,771.3 L705.6,772.7 L703.3,768.2 L703.7,768.5 L703.1,767.9 L702.1,767.5 L700.8,767.3 L699.2,767.3 L697.4,767.5 L695.5,767.9 L693.7,768.3 L692.0,768.8 L690.6,769.1 L689.5,769.4 L688.8,769.6Z M696.1,783.7 L697.1,784.1 L698.4,784.3 L700.0,784.3 L701.8,784.1 L703.7,783.7 L705.5,783.3 L707.2,782.8 L708.6,782.5 L709.7,782.2 L710.4,782.0 L710.7,782.1 L711.2,783.5 L708.9,779.0 L709.3,779.3 L708.7,778.7 L707.7,778.3 L706.4,778.1 L704.8,778.1 L703.0,778.3 L701.1,778.7 L699.3,779.1 L697.6,779.6 L696.2,779.9 L695.1,780.2 L694.4,780.4Z M701.7,794.5 L702.7,794.9 L704.0,795.1 L705.6,795.1 L707.4,794.9 L709.3,794.5 L706.7,789.5 L704.9,789.9 L703.2,790.4 L701.8,790.7 L700.7,791.0 L700.0,791.2Z" fill="#8a8a8a" stroke="#2a2a2a" stroke-width="0.8"/><path d="M695.7,768.3 L694.3,769.6 L693.0,770.7 L691.8,771.5 L690.9,772.2 L690.3,772.6 L690.1,772.8 L690.5,772.9 L688.8,769.6 L688.2,769.1 L688.0,768.1 L688.2,767.0 L688.8,765.7 L689.7,764.4 L690.9,763.0 L692.3,761.7Z M705.6,772.7 L705.4,773.8 L704.8,775.1 L703.9,776.4 L702.7,777.8 L701.3,779.1 L699.9,780.4 L698.6,781.5 L697.4,782.3 L696.5,783.0 L695.9,783.4 L695.7,783.6 L696.1,783.7 L694.4,780.4 L693.8,779.9 L693.6,778.9 L693.8,777.8 L694.4,776.5 L695.3,775.2 L696.5,773.8 L697.9,772.5 L699.3,771.2 L700.6,770.1 L701.8,769.3 L702.7,768.6 L703.3,768.2Z M711.2,783.5 L711.0,784.6 L710.4,785.9 L709.5,787.2 L708.3,788.6 L706.9,789.9 L705.5,791.2 L704.2,792.3 L703.0,793.1 L702.1,793.8 L701.5,794.2 L701.3,794.4 L701.7,794.5 L700.0,791.2 L699.4,790.7 L699.2,789.7 L699.4,788.6 L700.0,787.3 L700.9,786.0 L702.1,784.6 L703.5,783.3 L704.9,782.0 L706.2,780.9 L707.4,780.1 L708.3,779.4 L708.9,779.0Z" fill="#d6d6d6" stroke="#2a2a2a" stroke-width="0.9"/><path d="M693.6,799.2 L694.5,799.8 L695.6,800.2 L697.1,800.4 L698.6,800.5 L700.3,800.4 L701.9,800.3 L703.4,800.1 L704.7,800.0 L705.6,799.8 L706.3,799.8 L706.5,799.9 L706.9,801.4 L705.0,796.6 L705.4,797.0 L704.9,796.3 L704.0,795.7 L702.9,795.3 L701.4,795.1 L699.9,795.0 L698.2,795.1 L696.6,795.2 L695.1,795.4 L693.8,795.5 L692.9,795.7 L692.2,795.7Z M698.1,810.7 L699.0,811.3 L700.1,811.7 L701.6,811.9 L703.1,812.0 L704.8,811.9 L706.4,811.8 L707.9,811.6 L709.2,811.5 L710.1,811.3 L710.8,811.3 L711.0,811.4 L711.4,812.9 L709.5,808.1 L709.9,808.5 L709.4,807.8 L708.5,807.2 L707.4,806.8 L705.9,806.6 L704.4,806.5 L702.7,806.6 L701.1,806.7 L699.6,806.9 L698.3,807.0 L697.4,807.2 L696.7,807.2Z" fill="#8a8a8a" stroke="#2a2a2a" stroke-width="0.8"/><path d="M698.4,795.6 L697.1,796.6 L695.9,797.4 L694.8,798.1 L694.0,798.6 L693.5,798.9 L693.3,799.0 L693.6,799.2 L692.2,795.7 L691.8,795.1 L691.6,794.1 L691.8,793.0 L692.4,791.9 L693.3,790.7 L694.4,789.5 L695.6,788.4Z M706.9,801.4 L706.7,802.5 L706.1,803.6 L705.2,804.8 L704.1,806.0 L702.9,807.1 L701.6,808.1 L700.4,808.9 L699.3,809.6 L698.5,810.1 L698.0,810.4 L697.8,810.5 L698.1,810.7 L696.7,807.2 L696.3,806.6 L696.1,805.6 L696.3,804.5 L696.9,803.4 L697.8,802.2 L698.9,801.0 L700.1,799.9 L701.4,798.9 L702.6,798.1 L703.7,797.4 L704.5,796.9 L705.0,796.6Z M711.4,812.9 L711.2,814.0 L710.6,815.1 L709.7,816.3 L708.6,817.5 L707.4,818.6 L704.6,811.4 L705.9,810.4 L707.1,809.6 L708.2,808.9 L709.0,808.4 L709.5,808.1Z" fill="#d6d6d6" stroke="#2a2a2a" stroke-width="0.9"/><path d="M714.2,758.7 L715.3,758.7 L716.6,758.3 L718.1,757.7 L719.6,756.9 L721.1,755.9 L722.5,754.8 L723.7,753.8 L724.8,752.9 L725.6,752.2 L726.2,751.8 L726.5,751.8 L727.7,752.9 L723.1,749.6 L723.7,749.7 L722.8,749.3 L721.7,749.3 L720.4,749.7 L718.9,750.3 L717.4,751.1 L715.9,752.1 L714.5,753.2 L713.3,754.2 L712.2,755.1 L711.4,755.8 L710.8,756.2Z M725.2,766.7 L726.3,766.7 L727.6,766.3 L729.1,765.7 L730.6,764.9 L732.1,763.9 L733.5,762.8 L734.7,761.8 L735.8,760.9 L736.6,760.2 L737.2,759.8 L737.5,759.8 L738.7,760.9 L734.1,757.6 L734.7,757.7 L733.8,757.3 L732.7,757.3 L731.4,757.7 L729.9,758.3 L728.4,759.1 L726.9,760.1 L725.5,761.2 L724.3,762.2 L723.2,763.1 L722.4,763.8 L721.8,764.2Z" fill="#8a8a8a" stroke="#2a2a2a" stroke-width="0.8"/><path d="M716.4,752.5 L715.8,754.1 L715.2,755.6 L714.6,756.9 L714.2,757.8 L713.9,758.4 L713.8,758.6 L714.2,758.7 L710.8,756.2 L710.1,755.9 L709.3,755.1 L708.9,754.0 L708.7,752.6 L708.8,751.0 L709.1,749.3 L709.6,747.5Z M727.7,752.9 L728.1,754.0 L728.3,755.4 L728.2,757.0 L727.9,758.7 L727.4,760.5 L726.8,762.1 L726.2,763.6 L725.6,764.9 L725.2,765.8 L724.9,766.4 L724.8,766.6 L725.2,766.7 L721.8,764.2 L721.1,763.9 L720.3,763.1 L719.9,762.0 L719.7,760.6 L719.8,759.0 L720.1,757.3 L720.6,755.5 L721.2,753.9 L721.8,752.4 L722.4,751.1 L722.8,750.2 L723.1,749.6Z M738.7,760.9 L739.1,762.0 L739.3,763.4 L739.2,765.0 L738.9,766.7 L738.4,768.5 L731.6,763.5 L732.2,761.9 L732.8,760.4 L733.4,759.1 L733.8,758.2 L734.1,757.6Z" fill="#d6d6d6" stroke="#2a2a2a" stroke-width="0.9"/><path d="M733.3,778.5 L734.5,778.8 L735.9,778.9 L737.5,778.7 L739.1,778.3 L740.8,777.8 L742.3,777.1 L743.7,776.5 L744.9,775.9 L745.8,775.5 L746.5,775.3 L746.8,775.3 L748.1,776.9 L743.1,771.9 L743.7,772.2 L742.7,771.5 L741.5,771.2 L740.1,771.1 L738.5,771.3 L736.9,771.7 L735.2,772.2 L733.7,772.9 L732.3,773.5 L731.1,774.1 L730.2,774.5 L729.5,774.7Z M745.3,790.5 L746.5,790.8 L747.9,790.9 L749.5,790.7 L751.1,790.3 L752.8,789.8 L747.2,784.2 L745.7,784.9 L744.3,785.5 L743.1,786.1 L742.2,786.5 L741.5,786.7Z" fill="#8a8a8a" stroke="#2a2a2a" stroke-width="0.8"/><path d="M735.7,772.7 L735.1,774.3 L734.4,775.6 L733.7,776.7 L733.2,777.6 L732.9,778.1 L732.8,778.3 L733.3,778.5 L729.5,774.7 L728.7,774.2 L727.9,773.1 L727.4,771.8 L727.3,770.3 L727.4,768.6 L727.7,766.9 L728.3,765.3Z M748.1,776.9 L748.6,778.2 L748.7,779.7 L748.6,781.4 L748.3,783.1 L747.7,784.7 L747.1,786.3 L746.4,787.6 L745.7,788.7 L745.2,789.6 L744.9,790.1 L744.8,790.3 L745.3,790.5 L741.5,786.7 L740.7,786.2 L739.9,785.1 L739.4,783.8 L739.3,782.3 L739.4,780.6 L739.7,778.9 L740.3,777.3 L740.9,775.7 L741.6,774.4 L742.3,773.3 L742.8,772.4 L743.1,771.9Z" fill="#d6d6d6" stroke="#2a2a2a" stroke-width="0.9"/><path d="M746.8,767.8 L747.8,768.1 L749.0,768.1 L750.4,767.9 L751.9,767.5 L753.5,767.0 L755.0,766.4 L756.4,765.8 L757.5,765.2 L758.4,764.8 L759.0,764.6 L759.3,764.6 L760.0,765.9 L756.9,762.0 L757.4,762.2 L756.7,761.7 L755.7,761.4 L754.5,761.4 L753.1,761.6 L751.6,762.0 L750.0,762.5 L748.5,763.1 L747.1,763.7 L746.0,764.3 L745.1,764.7 L744.5,764.9Z M754.3,777.3 L755.3,777.6 L756.5,777.6 L757.9,777.4 L759.4,777.0 L761.0,776.5 L762.5,775.9 L763.9,775.3 L765.0,774.7 L765.9,774.3 L766.5,774.1 L766.8,774.1 L767.5,775.4 L764.4,771.5 L764.9,771.7 L764.2,771.2 L763.2,770.9 L762.0,770.9 L760.6,771.1 L759.1,771.5 L757.5,772.0 L756.0,772.6 L754.6,773.2 L753.5,773.8 L752.6,774.2 L752.0,774.4Z" fill="#8a8a8a" stroke="#2a2a2a" stroke-width="0.8"/><path d="M750.3,762.9 L749.4,764.3 L748.5,765.4 L747.6,766.4 L747.0,767.1 L746.6,767.5 L746.4,767.7 L746.8,767.8 L744.5,764.9 L743.9,764.5 L743.5,763.6 L743.4,762.5 L743.6,761.3 L744.1,759.9 L744.8,758.5 L745.7,757.1Z M760.0,765.9 L760.1,767.0 L759.9,768.2 L759.4,769.6 L758.7,771.0 L757.8,772.4 L756.9,773.8 L756.0,774.9 L755.1,775.9 L754.5,776.6 L754.1,777.0 L753.9,777.2 L754.3,777.3 L752.0,774.4 L751.4,774.0 L751.0,773.1 L750.9,772.0 L751.1,770.8 L751.6,769.4 L752.3,768.0 L753.2,766.6 L754.1,765.2 L755.0,764.1 L755.9,763.1 L756.5,762.4 L756.9,762.0Z M767.5,775.4 L767.6,776.5 L767.4,777.7 L766.9,779.1 L766.2,780.5 L765.3,781.9 L760.7,776.1 L761.6,774.7 L762.5,773.6 L763.4,772.6 L764.0,771.9 L764.4,771.5Z" fill="#d6d6d6" stroke="#2a2a2a" stroke-width="0.9"/><path d="M743.5,745.6 L744.6,746.0 L745.9,746.0 L747.5,745.9 L749.1,745.5 L750.9,745.1 L752.5,744.5 L754.0,743.9 L755.3,743.4 L756.3,743.0 L757.0,742.8 L757.3,742.8 L758.1,744.3 L754.8,739.7 L755.2,740.0 L754.5,739.4 L753.4,739.0 L752.1,739.0 L750.5,739.1 L748.9,739.5 L747.1,739.9 L745.5,740.5 L744.0,741.1 L742.7,741.6 L741.7,742.0 L741.0,742.2Z M751.5,756.6 L752.6,757.0 L753.9,757.0 L755.5,756.9 L757.1,756.5 L758.9,756.1 L760.5,755.5 L762.0,754.9 L763.3,754.4 L764.3,754.0 L765.0,753.8 L765.3,753.8 L766.1,755.3 L762.8,750.7 L763.2,751.0 L762.5,750.4 L761.4,750.0 L760.1,750.0 L758.5,750.1 L756.9,750.5 L755.1,750.9 L753.5,751.5 L752.0,752.1 L750.7,752.6 L749.7,753.0 L749.0,753.2Z" fill="#8a8a8a" stroke="#2a2a2a" stroke-width="0.8"/><path d="M747.5,740.4 L746.4,741.8 L745.4,743.0 L744.4,744.0 L743.7,744.8 L743.2,745.3 L743.1,745.4 L743.5,745.6 L741.0,742.2 L740.4,741.7 L739.9,740.7 L739.9,739.5 L740.1,738.1 L740.7,736.6 L741.5,735.1 L742.5,733.6Z M758.1,744.3 L758.1,745.5 L757.9,746.9 L757.3,748.4 L756.5,749.9 L755.5,751.4 L754.4,752.8 L753.4,754.0 L752.4,755.0 L751.7,755.8 L751.2,756.3 L751.1,756.4 L751.5,756.6 L749.0,753.2 L748.4,752.7 L747.9,751.7 L747.9,750.5 L748.1,749.1 L748.7,747.6 L749.5,746.1 L750.5,744.6 L751.6,743.2 L752.6,742.0 L753.6,741.0 L754.3,740.2 L754.8,739.7Z M766.1,755.3 L766.1,756.5 L765.9,757.9 L765.3,759.4 L764.5,760.9 L763.5,762.4 L758.5,755.6 L759.6,754.2 L760.6,753.0 L761.6,752.0 L762.3,751.2 L762.8,750.7Z" fill="#d6d6d6" stroke="#2a2a2a" stroke-width="0.9"/><path d="M760.0,743.2 L761.0,743.5 L762.2,743.6 L763.7,743.5 L765.3,743.2 L766.9,742.7 L768.4,742.2 L769.8,741.6 L771.0,741.1 L771.9,740.7 L772.5,740.6 L772.8,740.6 L773.6,742.0 L770.3,737.6 L770.7,737.9 L770.0,737.3 L769.0,737.0 L767.8,736.9 L766.3,737.0 L764.7,737.3 L763.1,737.8 L761.6,738.3 L760.2,738.9 L759.0,739.4 L758.1,739.8 L757.5,739.9Z M768.0,753.7 L769.0,754.0 L770.2,754.1 L771.7,754.0 L773.3,753.7 L774.9,753.2 L776.4,752.7 L777.8,752.1 L779.0,751.6 L779.9,751.2 L780.5,751.1 L780.8,751.1 L781.6,752.5 L778.3,748.1 L778.7,748.4 L778.0,747.8 L777.0,747.5 L775.8,747.4 L774.3,747.5 L772.7,747.8 L771.1,748.3 L769.6,748.8 L768.2,749.4 L767.0,749.9 L766.1,750.3 L765.5,750.4Z" fill="#8a8a8a" stroke="#2a2a2a" stroke-width="0.8"/><path d="M763.5,738.3 L762.5,739.6 L761.6,740.8 L760.8,741.7 L760.1,742.4 L759.7,742.9 L759.6,743.1 L760.0,743.2 L757.5,739.9 L756.9,739.5 L756.4,738.5 L756.3,737.4 L756.5,736.1 L756.9,734.6 L757.7,733.2 L758.5,731.7Z M773.6,742.0 L773.7,743.1 L773.5,744.4 L773.1,745.9 L772.3,747.3 L771.5,748.8 L770.5,750.1 L769.6,751.3 L768.8,752.2 L768.1,752.9 L767.7,753.4 L767.6,753.6 L768.0,753.7 L765.5,750.4 L764.9,750.0 L764.4,749.0 L764.3,747.9 L764.5,746.6 L764.9,745.1 L765.7,743.7 L766.5,742.2 L767.5,740.9 L768.4,739.7 L769.2,738.8 L769.9,738.1 L770.3,737.6Z M781.6,752.5 L781.7,753.6 L781.5,754.9 L781.1,756.4 L780.3,757.8 L779.5,759.3 L774.5,752.7 L775.5,751.4 L776.4,750.2 L777.2,749.3 L777.9,748.6 L778.3,748.1Z" fill="#d6d6d6" stroke="#2a2a2a" stroke-width="0.9"/><path d="M773.6,749.1 L774.8,749.5 L776.2,749.7 L777.7,749.6 L779.2,749.3 L780.8,748.8 L782.3,748.2 L783.6,747.7 L784.7,747.2 L785.5,746.8 L786.1,746.6 L786.4,746.6 L787.7,748.2 L782.8,743.3 L783.4,743.6 L782.4,742.9 L781.2,742.5 L779.8,742.3 L778.3,742.4 L776.8,742.7 L775.2,743.2 L773.7,743.8 L772.4,744.3 L771.3,744.8 L770.5,745.2 L769.9,745.4Z M785.6,761.1 L786.8,761.5 L788.2,761.7 L789.7,761.6 L791.2,761.3 L792.8,760.8 L787.2,755.2 L785.7,755.8 L784.4,756.3 L783.3,756.8 L782.5,757.2 L781.9,757.4Z" fill="#8a8a8a" stroke="#2a2a2a" stroke-width="0.8"/><path d="M775.7,743.7 L775.2,745.2 L774.6,746.4 L774.0,747.5 L773.5,748.3 L773.2,748.7 L773.2,748.9 L773.6,749.1 L769.9,745.4 L769.1,744.8 L768.3,743.8 L767.7,742.5 L767.5,741.0 L767.6,739.4 L767.8,737.8 L768.3,736.3Z M787.7,748.2 L788.3,749.5 L788.5,751.0 L788.4,752.6 L788.2,754.2 L787.7,755.7 L787.2,757.2 L786.6,758.4 L786.0,759.5 L785.5,760.3 L785.2,760.7 L785.2,760.9 L785.6,761.1 L781.9,757.4 L781.1,756.8 L780.3,755.8 L779.7,754.5 L779.5,753.0 L779.6,751.4 L779.8,749.8 L780.3,748.3 L780.8,746.8 L781.4,745.6 L782.0,744.5 L782.5,743.7 L782.8,743.3Z" fill="#d6d6d6" stroke="#2a2a2a" stroke-width="0.9"/><path d="M705,738 C707.7,740.2 718.3,748.8 721.0,751.0" fill="none" stroke="#333" stroke-width="6.6" stroke-linecap="butt"/><path d="M705,738 C707.7,740.2 718.3,748.8 721.0,751.0" fill="none" stroke="#c8c8c8" stroke-width="5" stroke-linecap="butt"/><path d="M711,756 C713.3,758.7 720.7,767.2 725.0,772.0 C729.3,776.8 735.0,782.8 737.0,785.0" fill="none" stroke="#333" stroke-width="6.6" stroke-linecap="butt"/><path d="M711,756 C713.3,758.7 720.7,767.2 725.0,772.0 C729.3,776.8 735.0,782.8 737.0,785.0" fill="none" stroke="#c0c0c0" stroke-width="5" stroke-linecap="butt"/><path d="M696.8,752.1 L697.5,752.9 L698.5,753.5 L699.7,754.1 L701.0,754.5 L702.4,754.8 L703.8,755.0 L705.1,755.1 L706.2,755.2 L707.0,755.2 L707.6,755.3 L707.8,755.5 L708.0,757.1 L706.6,751.6 L706.9,752.1 L706.5,751.2 L705.8,750.4 L704.8,749.8 L703.6,749.3 L702.3,748.9 L700.9,748.6 L699.5,748.4 L698.2,748.2 L697.1,748.2 L696.3,748.1 L695.8,748.0Z M700.1,765.5 L700.8,766.2 L701.8,766.9 L703.0,767.4 L704.4,767.8 L705.8,768.1 L704.2,761.9 L702.8,761.7 L701.6,761.6 L700.5,761.5 L699.6,761.4 L699.1,761.3Z" fill="#8a8a8a" stroke="#2a2a2a" stroke-width="0.8"/><path d="M701.0,749.1 L699.9,749.9 L698.8,750.6 L697.9,751.1 L697.2,751.5 L696.7,751.7 L696.6,751.8 L696.8,752.1 L695.8,748.0 L695.4,747.3 L695.3,746.2 L695.6,745.1 L696.1,743.9 L696.9,742.8 L697.9,741.8 L699.0,740.9Z M708.0,757.1 L707.8,758.3 L707.2,759.4 L706.5,760.5 L705.5,761.5 L704.4,762.5 L703.2,763.3 L702.2,763.9 L701.2,764.4 L700.5,764.8 L700.0,765.0 L699.9,765.2 L700.1,765.5 L699.1,761.3 L698.7,760.6 L698.7,759.5 L698.9,758.4 L699.4,757.3 L700.2,756.2 L701.2,755.1 L702.3,754.2 L703.4,753.4 L704.5,752.7 L705.4,752.2 L706.2,751.9 L706.6,751.6Z" fill="#d6d6d6" stroke="#2a2a2a" stroke-width="0.9"/><path d="M657.6,756.7 L658.3,757.9 L659.6,759.1 L661.3,760.4 L663.4,761.7 L665.7,762.8 L667.9,763.9 L670.1,764.9 L671.9,765.7 L673.3,766.3 L674.2,766.7 L674.5,767.0 L673.8,768.7 L675.1,762.6 L675.3,763.2 L675.2,762.1 L674.5,760.9 L673.2,759.7 L671.5,758.4 L669.4,757.1 L667.1,756.0 L664.9,754.9 L662.7,753.9 L660.9,753.1 L659.5,752.5 L658.6,752.1Z M654.4,771.5 L655.1,772.7 L656.4,773.9 L658.1,775.2 L660.2,776.5 L662.5,777.6 L664.7,778.7 L666.9,779.7 L668.7,780.5 L670.1,781.1 L671.0,781.5 L671.3,781.8 L670.6,783.5 L671.9,777.4 L672.1,778.0 L672.0,776.9 L671.3,775.7 L670.0,774.5 L668.3,773.2 L666.2,771.9 L663.9,770.8 L661.7,769.7 L659.5,768.7 L657.7,767.9 L656.3,767.3 L655.4,766.9Z M651.2,786.3 L651.9,787.5 L653.2,788.7 L654.9,790.0 L657.0,791.3 L659.3,792.4 L661.5,793.5 L663.7,794.5 L665.5,795.3 L666.9,795.9 L667.8,796.3 L668.1,796.6 L667.4,798.3 L668.7,792.2 L668.9,792.8 L668.8,791.7 L668.1,790.5 L666.8,789.3 L665.1,788.0 L663.0,786.7 L660.7,785.6 L658.5,784.5 L656.3,783.5 L654.5,782.7 L653.1,782.1 L652.2,781.7Z M647.9,800.0 L648.0,801.1 L648.7,802.3 L650.0,803.5 L651.7,804.8 L653.8,806.1 L656.1,807.2 L658.3,808.3 L660.5,809.3 L662.3,810.1 L663.7,810.7 L664.6,811.1 L664.9,811.4 L664.2,813.1 L665.5,807.0 L665.7,807.6 L665.6,806.5 L664.9,805.3 L663.6,804.1 L661.9,802.8 L659.8,801.5 L657.5,800.4 L655.3,799.3 L653.1,798.3 L651.3,797.5 L649.9,796.9 L649.0,796.5 L648.7,796.2Z M644.7,814.8 L644.8,815.9 L645.5,817.1 L646.8,818.3 L648.5,819.6 L650.6,820.9 L652.9,822.0 L655.1,823.1 L657.3,824.1 L659.1,824.9 L660.5,825.5 L661.4,825.9 L661.7,826.2 L661.0,827.9 L662.3,821.8 L662.5,822.4 L662.4,821.3 L661.7,820.1 L660.4,818.9 L658.7,817.6 L656.6,816.3 L654.3,815.2 L652.1,814.1 L649.9,813.1 L648.1,812.3 L646.7,811.7 L645.8,811.3 L645.5,811.0Z" fill="#8a8a8a" stroke="#2a2a2a" stroke-width="0.8"/><path d="M667.0,756.6 L664.5,756.6 L662.2,756.5 L660.2,756.4 L658.7,756.3 L657.7,756.2 L657.4,756.2 L657.6,756.7 L658.6,752.1 L658.5,751.2 L659.0,750.1 L660.2,749.2 L661.9,748.4 L664.0,747.9 L666.4,747.6 L669.0,747.4Z M673.8,768.7 L672.6,769.6 L670.9,770.4 L668.8,770.9 L666.4,771.2 L663.8,771.4 L661.3,771.4 L659.0,771.3 L657.0,771.2 L655.5,771.1 L654.5,771.0 L654.2,771.0 L654.4,771.5 L655.4,766.9 L655.3,766.0 L655.8,764.9 L657.0,764.0 L658.7,763.2 L660.8,762.7 L663.2,762.4 L665.8,762.2 L668.3,762.2 L670.6,762.3 L672.6,762.4 L674.1,762.5 L675.1,762.6Z M670.6,783.5 L669.4,784.4 L667.7,785.2 L665.6,785.7 L663.2,786.0 L660.6,786.2 L658.1,786.2 L655.8,786.1 L653.8,786.0 L652.3,785.9 L651.3,785.8 L651.0,785.8 L651.2,786.3 L652.2,781.7 L652.1,780.8 L652.6,779.7 L653.8,778.8 L655.5,778.0 L657.6,777.5 L660.0,777.2 L662.6,777.0 L665.1,777.0 L667.4,777.1 L669.4,777.2 L670.9,777.3 L671.9,777.4Z M667.4,798.3 L666.2,799.2 L664.5,800.0 L662.4,800.5 L660.0,800.8 L657.4,801.0 L654.9,801.0 L652.6,800.9 L650.6,800.8 L649.1,800.7 L648.1,800.6 L647.9,800.0 L648.7,796.2 L649.4,794.5 L650.6,793.6 L652.3,792.8 L654.4,792.3 L656.8,792.0 L659.4,791.8 L661.9,791.8 L664.2,791.9 L666.2,792.0 L667.7,792.1 L668.7,792.2Z M664.2,813.1 L663.0,814.0 L661.3,814.8 L659.2,815.3 L656.8,815.6 L654.2,815.8 L651.7,815.8 L649.4,815.7 L647.4,815.6 L645.9,815.5 L644.9,815.4 L644.7,814.8 L645.5,811.0 L646.2,809.3 L647.4,808.4 L649.1,807.6 L651.2,807.1 L653.6,806.8 L656.2,806.6 L658.7,806.6 L661.0,806.7 L663.0,806.8 L664.5,806.9 L665.5,807.0Z M661.0,827.9 L659.8,828.8 L658.1,829.6 L656.0,830.1 L653.6,830.4 L651.0,830.6 L653.0,821.4 L655.5,821.4 L657.8,821.5 L659.8,821.6 L661.3,821.7 L662.3,821.8Z" fill="#d6d6d6" stroke="#2a2a2a" stroke-width="0.9"/><path d="M667.8,768.2 L668.7,769.0 L670.1,769.6 L672.0,770.1 L674.2,770.5 L676.6,770.7 L679.0,770.9 L681.3,770.9 L683.3,770.9 L684.8,771.0 L685.9,771.0 L686.4,771.1 L686.5,772.6 L685.6,767.2 L685.7,767.4 L685.1,766.6 L683.9,765.8 L682.2,765.3 L680.2,764.8 L677.8,764.5 L675.4,764.4 L673.1,764.3 L670.9,764.2 L669.1,764.2 L667.8,764.2 L667.0,764.1Z M670.3,781.9 L671.2,782.7 L672.6,783.4 L674.5,783.9 L676.7,784.3 L679.1,784.5 L681.5,784.6 L683.8,784.7 L685.8,784.7 L687.3,784.7 L688.4,784.8 L688.9,784.9 L689.0,786.3 L688.1,780.9 L688.2,781.2 L687.6,780.3 L686.4,779.6 L684.7,779.0 L682.7,778.6 L680.3,778.3 L677.9,778.1 L675.6,778.0 L673.4,778.0 L671.6,778.0 L670.3,778.0 L669.5,777.9Z M672.8,795.7 L673.7,796.5 L675.1,797.1 L677.0,797.6 L679.2,798.0 L681.6,798.2 L684.0,798.4 L686.3,798.4 L688.3,798.4 L689.8,798.5 L690.9,798.5 L691.4,798.6 L691.5,800.1 L690.6,794.7 L690.7,794.9 L690.1,794.1 L688.9,793.3 L687.2,792.8 L685.2,792.3 L682.8,792.0 L680.4,791.9 L678.1,791.8 L675.9,791.7 L674.1,791.7 L672.8,791.7 L672.0,791.6Z M675.3,809.4 L676.2,810.2 L677.6,810.9 L679.5,811.4 L681.7,811.8 L684.1,812.0 L686.5,812.1 L688.8,812.2 L690.8,812.2 L692.3,812.2 L693.4,812.3 L693.9,812.4 L694.0,813.8 L693.1,808.4 L693.2,808.7 L692.6,807.8 L691.4,807.1 L689.7,806.5 L687.7,806.1 L685.3,805.8 L682.9,805.6 L680.6,805.5 L678.4,805.5 L676.6,805.5 L675.3,805.5 L674.5,805.4Z" fill="#8a8a8a" stroke="#2a2a2a" stroke-width="0.8"/><path d="M667.6,768.1 L667.8,768.2 L667.0,764.1 L666.7,763.1Z M686.5,772.6 L686.0,773.8 L684.9,775.0 L683.3,776.2 L681.4,777.4 L679.3,778.5 L677.1,779.4 L674.9,780.2 L673.1,780.9 L671.6,781.4 L670.6,781.7 L670.1,781.8 L670.3,781.9 L669.5,777.9 L669.2,776.9 L669.5,775.7 L670.3,774.5 L671.7,773.3 L673.5,772.1 L675.5,771.0 L677.7,769.9 L679.9,769.1 L681.9,768.3 L683.6,767.8 L684.8,767.4 L685.6,767.2Z M689.0,786.3 L688.5,787.5 L687.4,788.7 L685.8,789.9 L683.9,791.1 L681.8,792.2 L679.6,793.2 L677.4,794.0 L675.6,794.6 L674.1,795.1 L673.1,795.4 L672.6,795.6 L672.8,795.7 L672.0,791.6 L671.7,790.6 L672.0,789.5 L672.8,788.3 L674.2,787.0 L676.0,785.8 L678.0,784.7 L680.2,783.7 L682.4,782.8 L684.4,782.1 L686.1,781.5 L687.3,781.1 L688.1,780.9Z M691.5,800.1 L691.0,801.3 L689.9,802.5 L688.3,803.7 L686.4,804.9 L684.3,806.0 L682.1,806.9 L679.9,807.7 L678.1,808.4 L676.6,808.9 L675.6,809.2 L675.1,809.3 L675.3,809.4 L674.5,805.4 L674.2,804.4 L674.5,803.2 L675.3,802.0 L676.7,800.8 L678.5,799.6 L680.5,798.5 L682.7,797.4 L684.9,796.6 L686.9,795.8 L688.6,795.3 L689.8,794.9 L690.6,794.7Z M694.0,813.8 L693.5,815.0 L692.4,816.2 L690.8,817.4 L688.9,818.6 L686.8,819.7 L684.6,820.7 L682.4,821.5 L680.6,822.1 L679.1,822.6 L678.1,822.9 L677.6,823.1 L676.7,818.1 L677.0,817.0 L677.8,815.8 L679.2,814.5 L681.0,813.3 L683.0,812.2 L685.2,811.2 L687.4,810.3 L689.4,809.6 L691.1,809.0 L692.3,808.6 L693.1,808.4Z" fill="#d6d6d6" stroke="#2a2a2a" stroke-width="0.9"/><path d="M652,826 C653.3,827.3 657.5,833.7 660.0,834.0 C662.5,834.3 664.7,829.8 667.0,828.0 C669.3,826.2 671.7,822.8 674.0,823.0 C676.3,823.2 679.0,829.7 681.0,829.0 C683.0,828.3 685.2,820.7 686.0,819.0" fill="none" stroke="#555555" stroke-width="2.6" stroke-linecap="round"/><path d="M652,826 C653.3,827.3 657.5,833.7 660.0,834.0 C662.5,834.3 664.7,829.8 667.0,828.0 C669.3,826.2 671.7,822.8 674.0,823.0 C676.3,823.2 679.0,829.7 681.0,829.0 C683.0,828.3 685.2,820.7 686.0,819.0" fill="none" stroke="#d0d0d0" stroke-width="1.0" stroke-linecap="round"/><circle cx="598" cy="714" r="5.5" fill="#d8c21c" stroke="#7a6a10" stroke-width="0.8"/><circle cx="596.4" cy="712.4" r="2.2" fill="#f6f07a" opacity="0.8"/><circle cx="606" cy="721" r="5.5" fill="#c8561a" stroke="#6a2a08" stroke-width="0.8"/><circle cx="604.4" cy="719.4" r="2.2" fill="#f08a40" opacity="0.8"/><circle cx="601" cy="722" r="4.5" fill="#d8c21c" stroke="#7a6a10" stroke-width="0.8"/><circle cx="599.6" cy="720.6" r="1.8" fill="#f6f07a" opacity="0.8"/><circle cx="596" cy="732" r="4" fill="#c8561a" stroke="#6a2a08" stroke-width="0.8"/><circle cx="594.8" cy="730.8" r="1.6" fill="#f08a40" opacity="0.8"/><circle cx="729" cy="713" r="5.5" fill="#d8c21c" stroke="#7a6a10" stroke-width="0.8"/><circle cx="727.4" cy="711.4" r="2.2" fill="#f6f07a" opacity="0.8"/><circle cx="737" cy="716" r="5.5" fill="#c8561a" stroke="#6a2a08" stroke-width="0.8"/><circle cx="735.4" cy="714.4" r="2.2" fill="#f08a40" opacity="0.8"/><circle cx="733" cy="721" r="4.5" fill="#d8c21c" stroke="#7a6a10" stroke-width="0.8"/><circle cx="731.6" cy="719.6" r="1.8" fill="#f6f07a" opacity="0.8"/><circle cx="740" cy="731" r="4" fill="#c8561a" stroke="#6a2a08" stroke-width="0.8"/><circle cx="738.8" cy="729.8" r="1.6" fill="#f08a40" opacity="0.8"/><circle cx="603.6" cy="734.1" r="1.1" fill="#cc2222"/><circle cx="599.7" cy="738.2" r="1.1" fill="#2233aa"/><circle cx="593.6" cy="738.7" r="1.1" fill="#222222"/><circle cx="588.9" cy="735.3" r="1.1" fill="#cc2222"/><circle cx="588.4" cy="729.9" r="1.1" fill="#2233aa"/><circle cx="592.3" cy="725.8" r="1.1" fill="#dddd22"/><circle cx="598.4" cy="725.3" r="1.1" fill="#222222"/><circle cx="603.1" cy="728.7" r="1.1" fill="#cc2222"/><circle cx="747.6" cy="733.1" r="1.1" fill="#cc2222"/><circle cx="743.7" cy="737.2" r="1.1" fill="#2233aa"/><circle cx="737.6" cy="737.7" r="1.1" fill="#222222"/><circle cx="732.9" cy="734.3" r="1.1" fill="#cc2222"/><circle cx="732.4" cy="728.9" r="1.1" fill="#2233aa"/><circle cx="736.3" cy="724.8" r="1.1" fill="#dddd22"/><circle cx="742.4" cy="724.3" r="1.1" fill="#222222"/><circle cx="747.1" cy="727.7" r="1.1" fill="#cc2222"/><text x="806.5" y="140.7" font-size="39.5" fill="#000" text-anchor="start" style="font-family:'Liberation Sans',sans-serif" >0.1 nm</text><rect x="838.2" y="147.4" width="46.7" height="8.3" fill="#000"/><text x="330.5" y="433.7" font-size="39.5" fill="#000" text-anchor="start" style="font-family:'Liberation Sans',sans-serif" >0.1 nm</text><rect x="362.2" y="442" width="45.6" height="9.0" fill="#000"/><text x="818" y="688" font-size="39.5" fill="#000" text-anchor="start" style="font-family:'Liberation Sans',sans-serif" >1.0 nm</text><rect x="841.6" y="696" width="46.2" height="8.0" fill="#000"/><path d="M154,429 L149.5,440" stroke="#000" stroke-width="1.5" fill="none" stroke-linejoin="round"/><path d="M141,445.6 L122,444.4 L106,461.5" stroke="#000" stroke-width="1.5" fill="none" stroke-linejoin="round"/><path d="M76,458.5 L90.5,465.5" stroke="#000" stroke-width="1.5" fill="none" stroke-linejoin="round"/><path d="M143.8,456 L139.8,464.6" stroke="#000" stroke-width="1.5" fill="none" stroke-linejoin="round"/><path d="M135.8,476.2 L131.2,483.1 L134.5,492" stroke="#000" stroke-width="1.5" fill="none" stroke-linejoin="round"/><path d="M138.7,505 L145,521.5" stroke="#000" stroke-width="1.5" fill="none" stroke-linejoin="round"/><path d="M96.5,518.9 L115.6,508" stroke="#000" stroke-width="1.5" fill="none" stroke-linejoin="round"/><path d="M157.7,498 L167.6,505" stroke="#000" stroke-width="1.5" fill="none" stroke-linejoin="round"/><path d="M221.9,433 L226.3,438.9" stroke="#000" stroke-width="1.5" fill="none" stroke-linejoin="round"/><path d="M226.3,495.6 L221.2,505.8" stroke="#000" stroke-width="1.5" fill="none" stroke-linejoin="round"/><path d="M251.8,406.8 L266.3,398.8" stroke="#000" stroke-width="1.5" fill="none" stroke-linejoin="round"/><path d="M252.5,418.5 L265.6,428 L254,434.5" stroke="#000" stroke-width="1.5" fill="none" stroke-linejoin="round"/><path d="M247,439.5 L238.7,443.2" stroke="#000" stroke-width="1.5" fill="none" stroke-linejoin="round"/><path d="M238,451.2 L252,458.3" stroke="#000" stroke-width="1.5" fill="none" stroke-linejoin="round"/><path d="M258.5,461.9 L265.6,465.8 L285.3,460.7" stroke="#000" stroke-width="1.5" fill="none" stroke-linejoin="round"/><path d="M303.5,463.6 L318,472.3" stroke="#000" stroke-width="1.5" fill="none" stroke-linejoin="round"/><path d="M108.8,467.4 L129.4,462.2 L127.2,456.6 L108.6,466.6 Z" fill="#000"/><path d="M128.3,459.4 L146.2,483.1" stroke="#000" stroke-width="5.5" fill="none" stroke-linecap="butt"/><path d="M162.9,491.3 L179.9,474.2 L179.5,473.6 L158.3,485.3 Z" fill="#000"/><path d="M141.8,494.7 L114.6,504.8 L116.6,510.0 L143.6,499.3 Z" fill="#000"/><path d="M113.7,510.0 L139.1,525.0 L139.5,524.4 L117.5,504.8 Z" fill="#000"/><path d="M154.1,447.7 L154.5,446.9 M156.9,449.5 L157.6,448.0 M159.6,451.3 L160.7,449.2 M162.4,453.1 L163.8,450.3 M165.2,454.9 L166.9,451.5 M168.0,456.7 L170.1,452.6 M170.8,458.6 L173.2,453.8 M173.6,460.4 L176.3,454.9 M176.3,462.2 L179.4,456.1 M179.1,464.0 L182.5,457.2 " stroke="#000" stroke-width="1.6" fill="none"/><path d="M211.1,459.9 L209.9,457.7 M214.7,458.8 L213.1,455.4 M218.4,457.6 L216.2,453.2 M222.1,456.5 L219.3,450.9 M225.8,455.4 L222.4,448.6 " stroke="#000" stroke-width="1.8" fill="none"/><path d="M247.0,422.2 L254.4,448.9 L260.8,446.3 L247.8,422.0 Z" fill="#000"/><path d="M257.6,446 L238,476.7" stroke="#000" stroke-width="5.8" fill="none" stroke-linecap="butt"/><path d="M204.3,469.7 L220.6,483.3 L224.8,475.9 L204.7,469.1 Z" fill="#000"/><path d="M240.1,486.9 L262.7,489" stroke="#000" stroke-width="5.8" fill="none" stroke-linecap="butt"/><path d="M264.7,491.2 L285.6,468.3 L285.0,467.7 L260.7,486.8 Z" fill="#000"/><text stroke="#000" stroke-width="0.35" x="160" y="425" font-size="18.2" fill="#000" text-anchor="middle" style="font-family:'Liberation Sans',sans-serif">R</text><text stroke="#000" stroke-width="0.35" x="148.5" y="454" font-size="18.2" fill="#000" text-anchor="middle" style="font-family:'Liberation Sans',sans-serif">P</text><text stroke="#000" stroke-width="0.35" x="56" y="464" font-size="18.2" fill="#000" text-anchor="start" style="font-family:'Liberation Sans',sans-serif">R'</text><text stroke="#000" stroke-width="0.35" x="98.5" y="477" font-size="18.2" fill="#000" text-anchor="middle" style="font-family:'Liberation Sans',sans-serif">N</text><text stroke="#000" stroke-width="0.35" x="191.6" y="473" font-size="18.2" fill="#000" text-anchor="middle" style="font-family:'Liberation Sans',sans-serif">Ni</text><text stroke="#000" stroke-width="0.35" x="152.5" y="499.5" font-size="18.2" fill="#000" text-anchor="middle" style="font-family:'Liberation Sans',sans-serif">P</text><text stroke="#000" stroke-width="0.35" x="176" y="519.6" font-size="18.2" fill="#000" text-anchor="middle" style="font-family:'Liberation Sans',sans-serif">R</text><text stroke="#000" stroke-width="0.35" x="75" y="529.6" font-size="18.2" fill="#000" text-anchor="start" style="font-family:'Liberation Sans',sans-serif">R'</text><text stroke="#000" stroke-width="0.35" x="148" y="538.6" font-size="18.2" fill="#000" text-anchor="middle" style="font-family:'Liberation Sans',sans-serif">N</text><text stroke="#000" stroke-width="0.35" x="232" y="454" font-size="18.2" fill="#000" text-anchor="middle" style="font-family:'Liberation Sans',sans-serif">P</text><text stroke="#000" stroke-width="0.35" x="216" y="434" font-size="18.2" fill="#000" text-anchor="middle" style="font-family:'Liberation Sans',sans-serif">R</text><text stroke="#000" stroke-width="0.35" x="243.3" y="419.6" font-size="18.2" fill="#000" text-anchor="middle" style="font-family:'Liberation Sans',sans-serif">N</text><text stroke="#000" stroke-width="0.35" x="268.5" y="400.7" font-size="18.2" fill="#000" text-anchor="start" style="font-family:'Liberation Sans',sans-serif">R'</text><text stroke="#000" stroke-width="0.35" x="293.8" y="466.6" font-size="18.2" fill="#000" text-anchor="middle" style="font-family:'Liberation Sans',sans-serif">N</text><text stroke="#000" stroke-width="0.35" x="319" y="484.7" font-size="18.2" fill="#000" text-anchor="start" style="font-family:'Liberation Sans',sans-serif">R'</text><text stroke="#000" stroke-width="0.35" x="231.5" y="490" font-size="18.2" fill="#000" text-anchor="middle" style="font-family:'Liberation Sans',sans-serif">P</text><text stroke="#000" stroke-width="0.35" x="217" y="519" font-size="18.2" fill="#000" text-anchor="middle" style="font-family:'Liberation Sans',sans-serif">R</text><path d="M203.2,457.3 v7.6 M207.2,457.3 v7.6" stroke="#000" stroke-width="1.5"/><path d="M669.0,128.0 L688.0,176.0 C695.6,195.3 706.4,194.9 715.0,176.0 L737.0,128.0" fill="none" stroke="#1f4b92" stroke-width="3.9" stroke-linecap="butt"/><path d="M742.8,113.2 L729.6,124 L744.8,129.6 Z" fill="#1f4b92"/><path d="M158.0,385.0 L176.0,432.0 C183.5,451.7 191.7,451.0 201.0,432.0 L224.5,384.0" fill="none" stroke="#1f4b92" stroke-width="4.2" stroke-linecap="butt"/><path d="M229.7,369.2 L216.8,381.4 L232,386.4 Z" fill="#1f4b92"/><path d="M566.3,659.2 L588.0,707.0 C597.0,726.9 601.3,726.6 611.0,707.0 L635.2,658.0" fill="none" stroke="#1f4b92" stroke-width="4.5" stroke-linecap="butt"/><path d="M640.6,644 L627.3,656.3 L642.8,660.4 Z" fill="#1f4b92"/><text x="654.5" y="119.6" font-size="38" fill="#1b3f8c" text-anchor="start" style="font-family:'Liberation Sans',sans-serif" stroke="#1b3f8c" stroke-width="0.6">H</text><path d="M682.8,98.8 h12.4 M689,92.6 v12.4" stroke="#1b3f8c" stroke-width="2.2"/><text x="731.5" y="106.1" font-size="38" fill="#1b3f8c" text-anchor="start" style="font-family:'Liberation Sans',sans-serif" stroke="#1b3f8c" stroke-width="0.6">H</text><text x="758" y="117.4" font-size="26.5" fill="#1b3f8c" text-anchor="start" style="font-family:'Liberation Sans',sans-serif" stroke="#1b3f8c" stroke-width="0.6">2</text><text x="128" y="375.5" font-size="38" fill="#1b3f8c" text-anchor="start" style="font-family:'Liberation Sans',sans-serif" stroke="#1b3f8c" stroke-width="0.6">2H</text><path d="M178.39999999999998,354.6 h12.6 M184.7,348.3 v12.6" stroke="#1b3f8c" stroke-width="2.2"/><text x="219.2" y="363.6" font-size="38" fill="#1b3f8c" text-anchor="start" style="font-family:'Liberation Sans',sans-serif" stroke="#1b3f8c" stroke-width="0.6">H</text><text x="245.5" y="374.3" font-size="25.5" fill="#1b3f8c" text-anchor="start" style="font-family:'Liberation Sans',sans-serif" stroke="#1b3f8c" stroke-width="0.6">2</text><text x="537.5" y="649" font-size="37" fill="#1b3f8c" text-anchor="start" style="font-family:'Liberation Sans',sans-serif" stroke="#1b3f8c" stroke-width="0.6">2H</text><path d="M588.4,631 h12 M594.4,625 v12" stroke="#1b3f8c" stroke-width="2.2"/><text x="629.5" y="637" font-size="35.5" fill="#1b3f8c" text-anchor="start" style="font-family:'Liberation Sans',sans-serif" stroke="#1b3f8c" stroke-width="0.6">H</text><text x="656" y="648" font-size="25" fill="#1b3f8c" text-anchor="start" style="font-family:'Liberation Sans',sans-serif" stroke="#1b3f8c" stroke-width="0.6">2</text><path d="M193.5,504.0 L205.9,524.6 L203.2,527.4 L196.2,515.9 L196.2,550.5 L203.2,539.0 L205.9,541.8 L193.5,562.4 L181.1,541.8 L183.8,539.0 L190.8,550.5 L190.8,515.9 L183.8,527.4 L181.1,524.6Z" fill="#cc5b1b" stroke="#b54a12" stroke-width="1.3" stroke-linejoin="round"/><path d="M598.8,788.3 L611.2,808.9 L608.5,811.7 L601.5,800.2 L601.5,835.4 L608.5,823.9 L611.2,826.7 L598.8,847.3 L586.4,826.7 L589.1,823.9 L596.1,835.4 L596.1,800.2 L589.1,811.7 L586.4,808.9Z" fill="#cc5b1b" stroke="#b54a12" stroke-width="1.3" stroke-linejoin="round"/><text x="229" y="545.5" font-size="38" fill="#c9581c" text-anchor="start" style="font-family:'Liberation Sans',sans-serif" stroke="#c9581c" stroke-width="0.6">2 e</text><rect x="283" y="524.8" width="7.5" height="2.6" fill="#c9581c"/><text x="512" y="825.5" font-size="38" fill="#c9581c" text-anchor="start" style="font-family:'Liberation Sans',sans-serif" stroke="#c9581c" stroke-width="0.6">2 e</text><rect x="566" y="804.2" width="7.8" height="2.6" fill="#c9581c"/>
</svg></body></html>
